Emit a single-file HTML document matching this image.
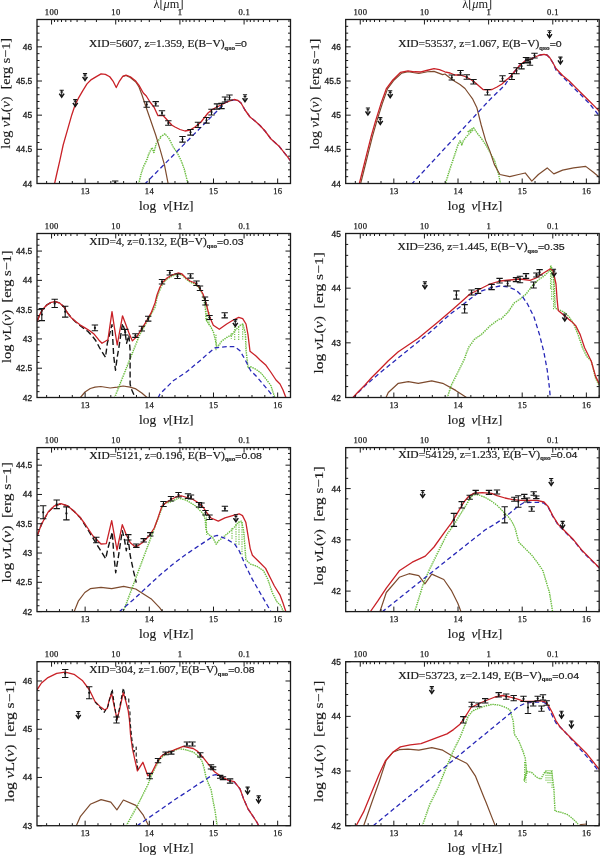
<!DOCTYPE html>
<html><head><meta charset="utf-8"><style>
html,body{margin:0;padding:0;background:#fff;}
svg{display:block;will-change:transform;}
.tx{font-family:"Liberation Serif",serif;font-size:8.6px;letter-spacing:0.35px;fill:#1a1a1a;stroke:#1a1a1a;stroke-width:0.25px;}
.ty{font-family:"Liberation Sans",sans-serif;font-size:8.4px;fill:#1a1a1a;stroke:#1a1a1a;stroke-width:0.3px;}
.al{font-family:"Liberation Serif",serif;font-size:12.8px;fill:#1a1a1a;stroke:#1a1a1a;stroke-width:0.15px;white-space:pre;}
.lam{font-family:"Liberation Serif",serif;font-size:11.5px;fill:#1a1a1a;}
.ti{font-family:"Liberation Serif",serif;font-size:10.2px;fill:#1a1a1a;stroke:#1a1a1a;stroke-width:0.2px;}
.tv{font-family:"Liberation Sans",sans-serif;font-size:9.4px;}
.sub{font-family:"Liberation Sans",sans-serif;font-size:5.2px;font-weight:bold;}
</style></head><body>
<svg width="600" height="855" viewBox="0 0 600 855">
<rect width="600" height="855" fill="#fff"/>
<clipPath id="cp0"><rect x="37.0" y="19.5" width="253.5" height="164.0"/></clipPath><g clip-path="url(#cp0)">
<polyline points="138.57,184.00 141.17,173.17 143.33,166.67 146.58,160.17 148.75,153.67 152.00,147.60 153.73,152.58 156.33,142.83 160.67,137.42 160.00,137.10 164.84,133.80 168.80,138.20 173.20,147.00 177.60,153.60 180.90,160.20 184.20,169.00 187.50,182.20 188.16,188.80" fill="none" stroke="#68bc3c" stroke-width="1.3" stroke-dasharray="1.3,1" stroke-linejoin="round"/>
<polyline points="139.07,184.40 141.67,173.57 143.83,167.07 147.08,160.57 149.25,154.07 152.50,148.00 154.23,152.98 156.83,143.23 161.17,137.82 160.50,137.50 165.34,134.20 169.30,138.60 173.70,147.40 178.10,154.00 181.40,160.60 184.70,169.40 188.00,182.60 188.66,189.20" fill="none" stroke="#68bc3c" stroke-width="0.9" stroke-dasharray="0.9,1.7" stroke-linejoin="round" opacity="0.8"/>
<polyline points="144.40,184.50 226.00,101.90 234.80,99.70 238.00,100.50 241.00,103.00 245.00,110.00 250.00,117.00 255.00,121.00 260.00,125.50 265.00,131.00 271.00,139.00 278.80,145.90 283.20,151.40 287.60,156.90 292.00,162.84" fill="none" stroke="#2828b8" stroke-width="1.3" stroke-linejoin="round" stroke-dasharray="4.6,3" opacity="1"/>
<polyline points="122.80,76.30 126.00,75.50 130.30,77.50 135.80,82.00 139.00,87.00 142.00,95.00 146.00,107.00 150.00,118.50 155.70,135.00 160.00,149.20 164.40,164.60 168.40,185.00" fill="none" stroke="#7d4b2e" stroke-width="1.2" stroke-linejoin="round" opacity="1"/>
<polyline points="54.50,184.00 56.67,174.25 59.92,160.17 63.17,145.00 67.50,129.83 71.83,114.67 75.08,104.92 78.33,98.42 82.67,90.83 87.00,83.90 91.33,79.57 96.75,76.32 101.08,73.93 105.42,74.37 109.75,76.75 113.00,81.08 116.25,87.58 119.50,81.08 122.75,76.32 126.00,75.23 130.33,76.75 135.75,81.08 139.00,85.42 143.30,93.00 146.30,96.00 150.00,102.00 154.30,107.70 158.00,115.70 163.30,115.70 172.00,125.30 175.00,127.00 180.00,129.50 185.00,131.00 190.00,130.00 195.00,127.00 201.00,122.00 208.00,113.00 213.00,109.00 220.00,105.50 227.00,102.00 234.00,99.50 238.00,100.50 241.00,103.00 245.00,110.00 250.00,117.00 255.00,121.00 260.00,125.50 265.00,131.00 271.00,139.00 278.80,145.90 283.20,151.40 287.60,156.90 292.00,162.84" fill="none" stroke="#c92127" stroke-width="1.3" stroke-linejoin="round" opacity="1"/>
<path d="M143.50 101.70h6.4M143.50 107.30h6.4M146.70 101.70V107.30" stroke="#151515" stroke-width="1.1" fill="none"/><circle cx="146.70" cy="104.50" r="1.1" fill="#151515"/>
<path d="M152.50 101.60h6.4M152.50 106.00h6.4M155.70 101.60V106.00" stroke="#151515" stroke-width="1.1" fill="none"/><circle cx="155.70" cy="103.80" r="1.1" fill="#151515"/>
<path d="M158.80 110.80h6.4M158.80 115.20h6.4M162.00 110.80V115.20" stroke="#151515" stroke-width="1.1" fill="none"/><circle cx="162.00" cy="113.00" r="1.1" fill="#151515"/>
<path d="M165.10 120.70h6.4M165.10 125.30h6.4M168.30 120.70V125.30" stroke="#151515" stroke-width="1.1" fill="none"/><circle cx="168.30" cy="123.00" r="1.1" fill="#151515"/>
<path d="M179.30 136.55h6.4M179.30 142.15h6.4M182.50 136.55V142.15" stroke="#151515" stroke-width="1.1" fill="none"/><circle cx="182.50" cy="139.35" r="1.1" fill="#151515"/>
<path d="M187.30 129.55h6.4M187.30 135.15h6.4M190.50 129.55V135.15" stroke="#151515" stroke-width="1.1" fill="none"/><circle cx="190.50" cy="132.35" r="1.1" fill="#151515"/>
<path d="M194.80 122.25h6.4M194.80 127.45h6.4M198.00 122.25V127.45" stroke="#151515" stroke-width="1.1" fill="none"/><circle cx="198.00" cy="124.85" r="1.1" fill="#151515"/>
<path d="M203.30 117.55h6.4M203.30 123.15h6.4M206.50 117.55V123.15" stroke="#151515" stroke-width="1.1" fill="none"/><circle cx="206.50" cy="120.35" r="1.1" fill="#151515"/>
<path d="M208.30 109.20h6.4M208.30 115.00h6.4M211.50 109.20V115.00" stroke="#151515" stroke-width="1.1" fill="none"/><circle cx="211.50" cy="112.10" r="1.1" fill="#151515"/>
<path d="M213.80 103.90h6.4M213.80 109.10h6.4M217.00 103.90V109.10" stroke="#151515" stroke-width="1.1" fill="none"/><circle cx="217.00" cy="106.50" r="1.1" fill="#151515"/>
<path d="M218.30 103.40h6.4M218.30 108.60h6.4M221.50 103.40V108.60" stroke="#151515" stroke-width="1.1" fill="none"/><circle cx="221.50" cy="106.00" r="1.1" fill="#151515"/>
<path d="M221.80 97.00h6.4M221.80 102.00h6.4M225.00 97.00V102.00" stroke="#151515" stroke-width="1.1" fill="none"/><circle cx="225.00" cy="99.50" r="1.1" fill="#151515"/>
<path d="M226.30 95.00h6.4M226.30 100.00h6.4M229.50 95.00V100.00" stroke="#151515" stroke-width="1.1" fill="none"/><circle cx="229.50" cy="97.50" r="1.1" fill="#151515"/>
<path d="M112.00 181.00h6.4M112.00 184.00h6.4M115.20 181.00V184.00" stroke="#151515" stroke-width="1.1" fill="none"/><circle cx="115.20" cy="182.50" r="1.1" fill="#151515"/>
<path d="M59.60 90.30h4.2M60.30 92.00h2.8M61.70 90.00v6.5" stroke="#151515" stroke-width="1.1" fill="none"/><polyline points="59.30,93.60 61.70,97.20 64.10,93.60" stroke="#151515" stroke-width="1.5" fill="none" stroke-linejoin="miter"/>
<path d="M73.20 99.60h4.2M73.90 101.30h2.8M75.30 99.30v6.5" stroke="#151515" stroke-width="1.1" fill="none"/><polyline points="72.90,102.90 75.30,106.50 77.70,102.90" stroke="#151515" stroke-width="1.5" fill="none" stroke-linejoin="miter"/>
<path d="M82.90 73.60h4.2M83.60 75.30h2.8M85.00 73.30v6.5" stroke="#151515" stroke-width="1.1" fill="none"/><polyline points="82.60,76.90 85.00,80.50 87.40,76.90" stroke="#151515" stroke-width="1.5" fill="none" stroke-linejoin="miter"/>
<path d="M242.90 94.80h4.2M243.60 96.50h2.8M245.00 94.50v6.5" stroke="#151515" stroke-width="1.1" fill="none"/><polyline points="242.60,98.10 245.00,101.70 247.40,98.10" stroke="#151515" stroke-width="1.5" fill="none" stroke-linejoin="miter"/>
</g>
<clipPath id="cp1"><rect x="345.7" y="19.5" width="253.5" height="164.0"/></clipPath><g clip-path="url(#cp1)">
<polyline points="444.83,185.08 449.17,171.00 453.50,158.00 457.83,145.00 460.00,140.67 461.73,145.00 463.25,140.67 466.50,136.33 470.83,132.00 473.00,129.83 468.00,131.60 473.50,127.64 476.80,132.70 481.20,138.20 485.60,144.80 490.00,152.50 494.40,160.20 498.80,175.60 501.44,188.80" fill="none" stroke="#68bc3c" stroke-width="1.3" stroke-dasharray="1.3,1" stroke-linejoin="round"/>
<polyline points="445.33,185.48 449.67,171.40 454.00,158.40 458.33,145.40 460.50,141.07 462.23,145.40 463.75,141.07 467.00,136.73 471.33,132.40 473.50,130.23 468.50,132.00 474.00,128.04 477.30,133.10 481.70,138.60 486.10,145.20 490.50,152.90 494.90,160.60 499.30,176.00 501.94,189.20" fill="none" stroke="#68bc3c" stroke-width="0.9" stroke-dasharray="0.9,1.7" stroke-linejoin="round" opacity="0.8"/>
<polyline points="360.55,184.00 363.80,171.00 368.13,153.67 372.47,136.33 376.80,121.17 382.22,103.83 387.63,88.67 394.13,80.00 401.72,73.07 408.00,71.77 418.83,73.50 427.50,71.77 434.00,71.33 442.67,74.58 445.00,74.00 450.00,78.00 455.00,81.50 460.00,84.50 465.00,88.50 469.00,94.00 472.40,98.60 476.80,107.40 481.20,125.00 485.60,140.40 490.00,151.40 494.40,164.60 499.90,174.50 509.80,176.70 518.60,174.50 525.20,172.96 531.80,181.10 538.40,174.50 547.20,167.90 553.80,173.84 562.60,170.10 573.60,167.90 585.70,166.36 593.40,172.30 600.00,177.80" fill="none" stroke="#7d4b2e" stroke-width="1.2" stroke-linejoin="round" opacity="1"/>
<polyline points="411.30,184.50 490.00,99.50 505.00,85.00 510.00,77.00 515.00,71.00 520.00,65.00 525.00,61.00 530.00,59.50 535.00,57.00 540.00,55.00 544.00,54.30 547.00,55.00 550.00,58.00 553.00,63.00 556.00,70.00 567.00,81.00 578.00,92.00 589.00,103.00 597.80,114.00 601.00,117.00" fill="none" stroke="#2828b8" stroke-width="1.3" stroke-linejoin="round" stroke-dasharray="4.6,3" opacity="1"/>
<polyline points="359.25,184.00 362.50,171.00 366.83,153.67 371.17,136.33 375.50,121.17 380.92,103.83 386.33,88.67 392.83,80.00 400.42,72.42 408.00,70.90 414.50,71.77 421.00,71.98 427.50,70.25 434.00,68.73 439.42,69.60 444.83,71.77 450.00,73.00 455.00,75.00 460.00,75.00 465.00,76.50 470.00,79.00 475.00,82.50 479.00,86.00 483.00,89.50 488.00,89.80 492.00,89.50 497.00,87.00 502.00,84.00 505.00,81.00 510.00,77.00 515.00,71.00 520.00,65.00 525.00,61.00 530.00,59.50 535.00,57.00 540.00,55.00 544.00,54.30 547.00,55.00 550.00,58.00 553.00,63.00 556.00,68.50 562.60,75.50 569.20,81.00 575.80,87.60 582.40,94.20 589.00,100.80 595.60,107.40 601.00,113.00" fill="none" stroke="#c92127" stroke-width="1.3" stroke-linejoin="round" opacity="1"/>
<path d="M448.60 75.00h6.4M448.60 80.00h6.4M451.80 75.00V80.00" stroke="#151515" stroke-width="1.1" fill="none"/><circle cx="451.80" cy="77.50" r="1.1" fill="#151515"/>
<path d="M457.30 70.45h6.4M457.30 75.05h6.4M460.50 70.45V75.05" stroke="#151515" stroke-width="1.1" fill="none"/><circle cx="460.50" cy="72.75" r="1.1" fill="#151515"/>
<path d="M463.60 74.80h6.4M463.60 79.20h6.4M466.80 74.80V79.20" stroke="#151515" stroke-width="1.1" fill="none"/><circle cx="466.80" cy="77.00" r="1.1" fill="#151515"/>
<path d="M470.30 79.45h6.4M470.30 84.05h6.4M473.50 79.45V84.05" stroke="#151515" stroke-width="1.1" fill="none"/><circle cx="473.50" cy="81.75" r="1.1" fill="#151515"/>
<path d="M484.30 89.55h6.4M484.30 94.95h6.4M487.50 89.55V94.95" stroke="#151515" stroke-width="1.1" fill="none"/><circle cx="487.50" cy="92.25" r="1.1" fill="#151515"/>
<path d="M499.30 75.80h6.4M499.30 81.20h6.4M502.50 75.80V81.20" stroke="#151515" stroke-width="1.1" fill="none"/><circle cx="502.50" cy="78.50" r="1.1" fill="#151515"/>
<path d="M508.60 73.50h6.4M508.60 79.50h6.4M511.80 73.50V79.50" stroke="#151515" stroke-width="1.1" fill="none"/><circle cx="511.80" cy="76.50" r="1.1" fill="#151515"/>
<path d="M513.30 67.70h6.4M513.30 73.70h6.4M516.50 67.70V73.70" stroke="#151515" stroke-width="1.1" fill="none"/><circle cx="516.50" cy="70.70" r="1.1" fill="#151515"/>
<path d="M518.30 63.50h6.4M518.30 68.90h6.4M521.50 63.50V68.90" stroke="#151515" stroke-width="1.1" fill="none"/><circle cx="521.50" cy="66.20" r="1.1" fill="#151515"/>
<path d="M522.80 57.50h6.4M522.80 62.50h6.4M526.00 57.50V62.50" stroke="#151515" stroke-width="1.1" fill="none"/><circle cx="526.00" cy="60.00" r="1.1" fill="#151515"/>
<path d="M526.80 59.20h6.4M526.80 65.20h6.4M530.00 59.20V65.20" stroke="#151515" stroke-width="1.1" fill="none"/><circle cx="530.00" cy="62.20" r="1.1" fill="#151515"/>
<path d="M524.80 58.00h6.4M524.80 63.00h6.4M528.00 58.00V63.00" stroke="#151515" stroke-width="1.1" fill="none"/><circle cx="528.00" cy="60.50" r="1.1" fill="#151515"/>
<path d="M531.30 53.20h6.4M531.30 58.00h6.4M534.50 53.20V58.00" stroke="#151515" stroke-width="1.1" fill="none"/><circle cx="534.50" cy="55.60" r="1.1" fill="#151515"/>
<path d="M365.80 108.00h4.2M366.50 109.70h2.8M367.90 107.70v6.5" stroke="#151515" stroke-width="1.1" fill="none"/><polyline points="365.50,111.30 367.90,114.90 370.30,111.30" stroke="#151515" stroke-width="1.5" fill="none" stroke-linejoin="miter"/>
<path d="M378.20 117.60h4.2M378.90 119.30h2.8M380.30 117.30v6.5" stroke="#151515" stroke-width="1.1" fill="none"/><polyline points="377.90,120.90 380.30,124.50 382.70,120.90" stroke="#151515" stroke-width="1.5" fill="none" stroke-linejoin="miter"/>
<path d="M388.10 90.70h4.2M388.80 92.40h2.8M390.20 90.40v6.5" stroke="#151515" stroke-width="1.1" fill="none"/><polyline points="387.80,94.00 390.20,97.60 392.60,94.00" stroke="#151515" stroke-width="1.5" fill="none" stroke-linejoin="miter"/>
<path d="M547.40 30.80h4.2M548.10 32.50h2.8M549.50 30.50v6.5" stroke="#151515" stroke-width="1.1" fill="none"/><polyline points="547.10,34.10 549.50,37.70 551.90,34.10" stroke="#151515" stroke-width="1.5" fill="none" stroke-linejoin="miter"/>
<path d="M558.30 57.10h4.2M559.00 58.80h2.8M560.40 56.80v6.5" stroke="#151515" stroke-width="1.1" fill="none"/><polyline points="558.00,60.40 560.40,64.00 562.80,60.40" stroke="#151515" stroke-width="1.5" fill="none" stroke-linejoin="miter"/>
</g>
<clipPath id="cp2"><rect x="37.0" y="233.5" width="253.5" height="164.0"/></clipPath><g clip-path="url(#cp2)">
<polyline points="80.00,398.00 85.00,392.00 90.30,388.50 95.00,387.10 100.80,386.50 110.20,388.00 117.20,387.10 123.10,386.00 130.10,387.10 135.90,388.90 141.80,393.00 147.60,398.00" fill="none" stroke="#7d4b2e" stroke-width="1.2" stroke-linejoin="round" opacity="1"/>
<polyline points="114.30,398.00 139.40,335.10 155.00,307.00 157.00,297.00 160.00,289.00 163.00,283.00 167.00,279.00 172.00,276.00 178.00,274.00 182.00,275.00 186.00,279.00 190.00,282.00 195.00,284.00 199.00,288.00 203.00,295.00 205.30,308.00 206.00,320.00 210.70,326.70 213.30,332.00 215.30,340.00 216.70,346.00 218.70,345.30 221.30,341.30 226.70,337.30 232.00,334.70 234.70,330.70 237.30,328.00 240.00,325.30 242.70,324.00 245.30,333.30 246.00,350.70 248.00,368.00 250.70,366.70 256.00,369.30 261.30,373.30 266.70,380.00 270.70,385.30 273.30,393.30 275.00,398.00" fill="none" stroke="#68bc3c" stroke-width="1.3" stroke-dasharray="1.3,1" stroke-linejoin="round"/>
<polyline points="114.80,398.40 139.90,335.50 155.50,307.40 157.50,297.40 160.50,289.40 163.50,283.40 167.50,279.40 172.50,276.40 178.50,274.40 182.50,275.40 186.50,279.40 190.50,282.40 195.50,284.40 199.50,288.40 203.50,295.40 205.80,308.40 206.50,320.40 211.20,327.10 213.80,332.40 215.80,340.40 217.20,346.40 219.20,345.70 221.80,341.70 227.20,337.70 232.50,335.10 235.20,331.10 237.80,328.40 240.50,325.70 243.20,324.40 245.80,333.70 246.50,351.10 248.50,368.40 251.20,367.10 256.50,369.70 261.80,373.70 267.20,380.40 271.20,385.70 273.80,393.70 275.50,398.40" fill="none" stroke="#68bc3c" stroke-width="0.9" stroke-dasharray="0.9,1.7" stroke-linejoin="round" opacity="0.8"/>
<polyline points="216.00,334.70 216.00,350.70" fill="none" stroke="#68bc3c" stroke-width="1.1" stroke-linejoin="round" stroke-dasharray="1.2,1.2" opacity="1"/>
<polyline points="231.30,333.30 231.30,338.70" fill="none" stroke="#68bc3c" stroke-width="1.1" stroke-linejoin="round" stroke-dasharray="1.2,1.2" opacity="1"/>
<polyline points="234.70,326.70 234.70,340.00" fill="none" stroke="#68bc3c" stroke-width="1.1" stroke-linejoin="round" stroke-dasharray="1.2,1.2" opacity="1"/>
<polyline points="238.70,326.70 238.70,340.00" fill="none" stroke="#68bc3c" stroke-width="1.1" stroke-linejoin="round" stroke-dasharray="1.2,1.2" opacity="1"/>
<polyline points="242.70,324.00 242.70,340.00" fill="none" stroke="#68bc3c" stroke-width="1.1" stroke-linejoin="round" stroke-dasharray="1.2,1.2" opacity="1"/>
<polyline points="207.00,306.00 207.00,322.00" fill="none" stroke="#68bc3c" stroke-width="1.1" stroke-linejoin="round" stroke-dasharray="1.2,1.2" opacity="1"/>
<polyline points="209.00,312.00 209.00,326.00" fill="none" stroke="#68bc3c" stroke-width="1.1" stroke-linejoin="round" stroke-dasharray="1.2,1.2" opacity="1"/>
<polyline points="158.00,398.00 160.00,394.00 173.20,380.80 186.40,372.00 199.60,361.00 206.70,354.70 214.70,348.00 220.00,347.30 226.70,346.70 234.70,346.70 240.00,350.70 245.30,360.00 250.70,370.70 257.30,377.30 264.00,385.30 270.70,393.30 274.00,398.00" fill="none" stroke="#2828b8" stroke-width="1.3" stroke-linejoin="round" stroke-dasharray="4.6,3" opacity="1"/>
<polyline points="37.00,321.50 39.50,315.10 42.40,309.80 46.50,305.20 51.20,302.30 55.30,301.70 59.30,302.80 64.00,306.90 67.50,312.80 71.00,317.40 75.70,322.00 81.50,326.80 88.00,331.50 93.20,337.30 95.50,340.20 99.70,348.00 105.50,357.30 107.30,343.30 112.00,324.60 113.70,356.10 115.50,370.20 117.20,357.30 119.00,346.80 122.50,323.40 124.80,330.40 126.60,343.30 128.90,335.10 130.10,350.30 130.10,384.20 131.30,388.90 135.40,398.00" fill="none" stroke="#151515" stroke-width="1.4" stroke-linejoin="round" stroke-dasharray="6,3" opacity="1"/>
<polyline points="37.00,322.00 39.50,315.10 42.40,309.80 46.50,305.20 51.20,302.30 55.30,301.70 59.30,302.80 64.00,306.90 67.50,312.80 71.00,317.40 75.70,321.50 80.30,325.00 85.00,327.90 89.70,330.80 94.30,334.30 99.00,340.20 102.00,343.30 107.90,339.80 112.00,311.70 114.30,326.90 117.20,345.00 122.50,315.80 126.00,325.10 128.90,332.70 132.40,340.90 137.10,336.30 141.80,328.70 146.50,321.10 151.10,312.90 155.00,303.00 157.00,295.00 160.00,287.00 163.00,282.00 167.00,278.00 172.00,275.00 178.00,273.00 182.00,274.00 186.00,278.00 190.00,281.00 195.00,283.00 199.00,287.00 203.00,294.00 206.00,303.00 209.30,316.00 213.30,325.30 219.30,329.30 226.70,324.00 233.30,320.00 238.70,317.30 242.70,318.70 246.00,324.00 248.00,334.70 250.00,351.30 256.00,356.00 260.00,360.00 266.00,365.30 270.70,372.00 276.00,380.00 280.00,384.00 283.00,390.00 285.40,396.20 286.50,399.00" fill="none" stroke="#c92127" stroke-width="1.3" stroke-linejoin="round" opacity="1"/>
<path d="M38.60 308.60h6.4M38.60 320.60h6.4M41.80 308.60V320.60" stroke="#151515" stroke-width="1.1" fill="none"/><circle cx="41.80" cy="314.60" r="1.1" fill="#151515"/>
<path d="M51.50 299.30h6.4M51.50 307.50h6.4M54.70 299.30V307.50" stroke="#151515" stroke-width="1.1" fill="none"/><circle cx="54.70" cy="303.40" r="1.1" fill="#151515"/>
<path d="M62.00 306.30h6.4M62.00 317.10h6.4M65.20 306.30V317.10" stroke="#151515" stroke-width="1.1" fill="none"/><circle cx="65.20" cy="311.70" r="1.1" fill="#151515"/>
<path d="M91.70 325.00h6.4M91.70 330.80h6.4M94.90 325.00V330.80" stroke="#151515" stroke-width="1.1" fill="none"/><circle cx="94.90" cy="327.90" r="1.1" fill="#151515"/>
<path d="M122.00 329.40h6.4M122.00 335.00h6.4M125.20 329.40V335.00" stroke="#151515" stroke-width="1.1" fill="none"/><circle cx="125.20" cy="332.20" r="1.1" fill="#151515"/>
<path d="M132.20 333.80h6.4M132.20 337.40h6.4M135.40 333.80V337.40" stroke="#151515" stroke-width="1.1" fill="none"/><circle cx="135.40" cy="335.60" r="1.1" fill="#151515"/>
<path d="M138.60 326.20h6.4M138.60 331.00h6.4M141.80 326.20V331.00" stroke="#151515" stroke-width="1.1" fill="none"/><circle cx="141.80" cy="328.60" r="1.1" fill="#151515"/>
<path d="M145.00 316.30h6.4M145.00 321.10h6.4M148.20 316.30V321.10" stroke="#151515" stroke-width="1.1" fill="none"/><circle cx="148.20" cy="318.70" r="1.1" fill="#151515"/>
<path d="M158.80 279.45h6.4M158.80 284.05h6.4M162.00 279.45V284.05" stroke="#151515" stroke-width="1.1" fill="none"/><circle cx="162.00" cy="281.75" r="1.1" fill="#151515"/>
<path d="M166.60 270.45h6.4M166.60 275.05h6.4M169.80 270.45V275.05" stroke="#151515" stroke-width="1.1" fill="none"/><circle cx="169.80" cy="272.75" r="1.1" fill="#151515"/>
<path d="M174.30 273.95h6.4M174.30 278.55h6.4M177.50 273.95V278.55" stroke="#151515" stroke-width="1.1" fill="none"/><circle cx="177.50" cy="276.25" r="1.1" fill="#151515"/>
<path d="M187.30 273.70h6.4M187.30 278.10h6.4M190.50 273.70V278.10" stroke="#151515" stroke-width="1.1" fill="none"/><circle cx="190.50" cy="275.90" r="1.1" fill="#151515"/>
<path d="M193.30 280.95h6.4M193.30 285.55h6.4M196.50 280.95V285.55" stroke="#151515" stroke-width="1.1" fill="none"/><circle cx="196.50" cy="283.25" r="1.1" fill="#151515"/>
<path d="M196.80 285.95h6.4M196.80 290.55h6.4M200.00 285.95V290.55" stroke="#151515" stroke-width="1.1" fill="none"/><circle cx="200.00" cy="288.25" r="1.1" fill="#151515"/>
<path d="M201.80 296.95h6.4M201.80 300.55h6.4M205.00 296.95V300.55" stroke="#151515" stroke-width="1.1" fill="none"/><circle cx="205.00" cy="298.75" r="1.1" fill="#151515"/>
<path d="M202.30 300.45h6.4M202.30 305.05h6.4M205.50 300.45V305.05" stroke="#151515" stroke-width="1.1" fill="none"/><circle cx="205.50" cy="302.75" r="1.1" fill="#151515"/>
<path d="M206.30 315.50h6.4M206.30 319.50h6.4M209.50 315.50V319.50" stroke="#151515" stroke-width="1.1" fill="none"/><circle cx="209.50" cy="317.50" r="1.1" fill="#151515"/>
<path d="M221.50 312.70h6.4M221.50 317.90h6.4M224.70 312.70V317.90" stroke="#151515" stroke-width="1.1" fill="none"/><circle cx="224.70" cy="315.30" r="1.1" fill="#151515"/>
<path d="M233.20 319.60h4.2M233.90 321.30h2.8M235.30 319.30v6.5" stroke="#151515" stroke-width="1.1" fill="none"/><polyline points="232.90,322.90 235.30,326.50 237.70,322.90" stroke="#151515" stroke-width="1.5" fill="none" stroke-linejoin="miter"/>
</g>
<clipPath id="cp3"><rect x="345.7" y="233.5" width="253.5" height="164.0"/></clipPath><g clip-path="url(#cp3)">
<polyline points="385.80,398.00 388.30,392.50 398.30,383.30 408.30,381.70 418.30,383.30 431.70,380.80 442.70,383.30 455.70,390.40 466.50,397.50" fill="none" stroke="#7d4b2e" stroke-width="1.2" stroke-linejoin="round" opacity="1"/>
<polyline points="447.00,398.00 451.30,385.00 455.70,376.30 461.10,365.50 464.30,359.00 466.50,352.50 468.70,347.10 474.60,339.00 481.20,334.60 490.00,325.80 498.80,319.20 501.00,319.00 508.00,312.00 514.00,303.00 520.00,299.00 526.00,294.00 532.00,286.00 538.00,280.00 544.00,276.00 550.00,270.00 551.00,266.00 552.00,272.00 554.00,280.00 555.00,308.00 560.40,310.40 564.80,312.60 569.20,317.00 573.60,323.60 578.00,334.60 582.40,347.80 586.80,356.60 591.20,361.00 595.60,378.60 600.00,387.40" fill="none" stroke="#68bc3c" stroke-width="1.3" stroke-dasharray="1.3,1" stroke-linejoin="round"/>
<polyline points="447.50,398.40 451.80,385.40 456.20,376.70 461.60,365.90 464.80,359.40 467.00,352.90 469.20,347.50 475.10,339.40 481.70,335.00 490.50,326.20 499.30,319.60 501.50,319.40 508.50,312.40 514.50,303.40 520.50,299.40 526.50,294.40 532.50,286.40 538.50,280.40 544.50,276.40 550.50,270.40 551.50,266.40 552.50,272.40 554.50,280.40 555.50,308.40 560.90,310.80 565.30,313.00 569.70,317.40 574.10,324.00 578.50,335.00 582.90,348.20 587.30,357.00 591.70,361.40 596.10,379.00 600.50,387.80" fill="none" stroke="#68bc3c" stroke-width="0.9" stroke-dasharray="0.9,1.7" stroke-linejoin="round" opacity="0.8"/>
<polyline points="550.50,266.00 550.50,290.00" fill="none" stroke="#68bc3c" stroke-width="1.1" stroke-linejoin="round" stroke-dasharray="1.2,1.2" opacity="1"/>
<polyline points="551.70,267.00 551.70,300.00" fill="none" stroke="#68bc3c" stroke-width="1.1" stroke-linejoin="round" stroke-dasharray="1.2,1.2" opacity="1"/>
<polyline points="553.50,272.00 553.50,310.00" fill="none" stroke="#68bc3c" stroke-width="1.1" stroke-linejoin="round" stroke-dasharray="1.2,1.2" opacity="1"/>
<polyline points="352.80,398.00 365.00,385.80 378.30,374.20 391.70,363.30 405.00,352.50 418.30,341.70 431.70,330.80 440.00,323.30 450.00,314.30 460.00,307.00 470.00,299.00 480.00,291.60 490.00,288.00 500.00,286.00 508.00,287.00 516.00,290.00 522.00,296.00 527.40,303.80 534.00,317.00 539.50,334.60 543.90,352.20 547.20,369.80 549.40,387.40 550.50,400.00" fill="none" stroke="#2828b8" stroke-width="1.3" stroke-linejoin="round" stroke-dasharray="4.6,3" opacity="1"/>
<polyline points="352.50,398.00 358.30,391.70 365.00,385.00 371.70,377.50 380.00,369.20 388.30,360.80 398.30,351.70 408.30,345.00 418.30,338.30 428.30,330.00 438.30,321.70 450.00,311.70 460.00,303.00 470.00,294.00 480.00,289.00 490.00,284.00 500.00,281.00 510.00,280.00 520.00,279.00 530.00,280.40 536.00,278.00 542.00,274.00 550.00,269.00 553.00,270.50 556.00,284.00 557.10,299.40 558.20,310.40 564.80,315.90 571.40,321.40 575.80,325.80 580.20,334.60 584.60,347.80 591.20,361.00 595.60,376.40 600.00,385.20" fill="none" stroke="#c92127" stroke-width="1.3" stroke-linejoin="round" opacity="1"/>
<path d="M453.20 290.90h6.4M453.20 299.10h6.4M456.40 290.90V299.10" stroke="#151515" stroke-width="1.1" fill="none"/><circle cx="456.40" cy="295.00" r="1.1" fill="#151515"/>
<path d="M461.40 304.60h6.4M461.40 313.00h6.4M464.60 304.60V313.00" stroke="#151515" stroke-width="1.1" fill="none"/><circle cx="464.60" cy="308.80" r="1.1" fill="#151515"/>
<path d="M468.40 290.00h6.4M468.40 295.00h6.4M471.60 290.00V295.00" stroke="#151515" stroke-width="1.1" fill="none"/><circle cx="471.60" cy="292.50" r="1.1" fill="#151515"/>
<path d="M474.80 288.60h6.4M474.80 293.40h6.4M478.00 288.60V293.40" stroke="#151515" stroke-width="1.1" fill="none"/><circle cx="478.00" cy="291.00" r="1.1" fill="#151515"/>
<path d="M488.40 284.40h6.4M488.40 289.60h6.4M491.60 284.40V289.60" stroke="#151515" stroke-width="1.1" fill="none"/><circle cx="491.60" cy="287.00" r="1.1" fill="#151515"/>
<path d="M496.40 278.40h6.4M496.40 283.00h6.4M499.60 278.40V283.00" stroke="#151515" stroke-width="1.1" fill="none"/><circle cx="499.60" cy="280.70" r="1.1" fill="#151515"/>
<path d="M504.40 281.00h6.4M504.40 286.00h6.4M507.60 281.00V286.00" stroke="#151515" stroke-width="1.1" fill="none"/><circle cx="507.60" cy="283.50" r="1.1" fill="#151515"/>
<path d="M512.80 277.60h6.4M512.80 281.60h6.4M516.00 277.60V281.60" stroke="#151515" stroke-width="1.1" fill="none"/><circle cx="516.00" cy="279.60" r="1.1" fill="#151515"/>
<path d="M516.80 276.30h6.4M516.80 282.70h6.4M520.00 276.30V282.70" stroke="#151515" stroke-width="1.1" fill="none"/><circle cx="520.00" cy="279.50" r="1.1" fill="#151515"/>
<path d="M522.80 273.60h6.4M522.80 278.40h6.4M526.00 273.60V278.40" stroke="#151515" stroke-width="1.1" fill="none"/><circle cx="526.00" cy="276.00" r="1.1" fill="#151515"/>
<path d="M530.40 282.00h6.4M530.40 288.00h6.4M533.60 282.00V288.00" stroke="#151515" stroke-width="1.1" fill="none"/><circle cx="533.60" cy="285.00" r="1.1" fill="#151515"/>
<path d="M533.20 273.00h6.4M533.20 277.00h6.4M536.40 273.00V277.00" stroke="#151515" stroke-width="1.1" fill="none"/><circle cx="536.40" cy="275.00" r="1.1" fill="#151515"/>
<path d="M536.40 269.60h6.4M536.40 275.00h6.4M539.60 269.60V275.00" stroke="#151515" stroke-width="1.1" fill="none"/><circle cx="539.60" cy="272.30" r="1.1" fill="#151515"/>
<path d="M422.80 281.70h4.2M423.50 283.40h2.8M424.90 281.40v6.5" stroke="#151515" stroke-width="1.1" fill="none"/><polyline points="422.50,285.00 424.90,288.60 427.30,285.00" stroke="#151515" stroke-width="1.5" fill="none" stroke-linejoin="miter"/>
<path d="M551.90 269.30h4.2M552.60 271.00h2.8M554.00 269.00v6.5" stroke="#151515" stroke-width="1.1" fill="none"/><polyline points="551.60,272.60 554.00,276.20 556.40,272.60" stroke="#151515" stroke-width="1.5" fill="none" stroke-linejoin="miter"/>
<path d="M562.70 314.00h4.2M563.40 315.70h2.8M564.80 313.70v6.5" stroke="#151515" stroke-width="1.1" fill="none"/><polyline points="562.40,317.30 564.80,320.90 567.20,317.30" stroke="#151515" stroke-width="1.5" fill="none" stroke-linejoin="miter"/>
</g>
<clipPath id="cp4"><rect x="37.0" y="447.6" width="253.5" height="164.0"/></clipPath><g clip-path="url(#cp4)">
<polyline points="74.00,612.00 78.30,601.20 84.80,592.50 90.30,588.70 101.00,587.30 111.70,588.70 123.70,586.40 135.70,589.00 142.30,593.30 151.70,599.30 159.60,607.70 162.80,612.00" fill="none" stroke="#7d4b2e" stroke-width="1.2" stroke-linejoin="round" opacity="1"/>
<polyline points="123.00,612.00 127.50,600.00 162.30,506.70 164.40,503.00 168.80,502.40 178.70,498.00 186.40,500.20 195.20,505.70 202.90,513.40 205.10,518.90 205.80,528.80 207.30,533.20 212.80,537.60 216.10,544.20 218.30,540.90 223.80,536.50 230.40,531.00 234.80,526.60 238.10,522.20 241.40,521.10 243.60,531.00 245.80,559.60 250.20,564.00 256.80,566.20 263.40,570.60 267.80,579.40 272.20,592.60 276.60,601.40 281.00,605.80 284.30,614.60" fill="none" stroke="#68bc3c" stroke-width="1.3" stroke-dasharray="1.3,1" stroke-linejoin="round"/>
<polyline points="123.50,612.40 128.00,600.40 162.80,507.10 164.90,503.40 169.30,502.80 179.20,498.40 186.90,500.60 195.70,506.10 203.40,513.80 205.60,519.30 206.30,529.20 207.80,533.60 213.30,538.00 216.60,544.60 218.80,541.30 224.30,536.90 230.90,531.40 235.30,527.00 238.60,522.60 241.90,521.50 244.10,531.40 246.30,560.00 250.70,564.40 257.30,566.60 263.90,571.00 268.30,579.80 272.70,593.00 277.10,601.80 281.50,606.20 284.80,615.00" fill="none" stroke="#68bc3c" stroke-width="0.9" stroke-dasharray="0.9,1.7" stroke-linejoin="round" opacity="0.8"/>
<polyline points="232.00,528.00 232.00,540.00" fill="none" stroke="#68bc3c" stroke-width="1.1" stroke-linejoin="round" stroke-dasharray="1.2,1.2" opacity="1"/>
<polyline points="236.00,524.00 236.00,545.00" fill="none" stroke="#68bc3c" stroke-width="1.1" stroke-linejoin="round" stroke-dasharray="1.2,1.2" opacity="1"/>
<polyline points="239.00,522.00 239.00,545.00" fill="none" stroke="#68bc3c" stroke-width="1.1" stroke-linejoin="round" stroke-dasharray="1.2,1.2" opacity="1"/>
<polyline points="242.00,522.00 242.00,555.00" fill="none" stroke="#68bc3c" stroke-width="1.1" stroke-linejoin="round" stroke-dasharray="1.2,1.2" opacity="1"/>
<polyline points="206.50,515.00 206.50,535.00" fill="none" stroke="#68bc3c" stroke-width="1.1" stroke-linejoin="round" stroke-dasharray="1.2,1.2" opacity="1"/>
<polyline points="119.00,612.00 133.00,600.00 160.00,575.00 173.20,564.00 186.40,554.10 199.60,545.30 212.80,536.50 217.20,535.40 226.00,538.70 234.80,544.20 239.20,550.80 245.80,566.20 252.40,579.40 261.20,594.80 268.90,608.00 271.00,612.00" fill="none" stroke="#2828b8" stroke-width="1.3" stroke-linejoin="round" stroke-dasharray="4.6,3" opacity="1"/>
<polyline points="37.00,536.00 41.50,524.30 48.00,512.30 54.50,505.80 61.00,503.70 67.50,505.80 74.00,511.30 80.50,518.00 87.70,529.30 95.70,542.70 105.70,558.70 107.70,549.30 112.30,532.00 113.70,553.30 115.70,572.70 118.30,557.30 122.30,530.70 124.30,538.70 126.30,550.70 128.30,540.00 130.30,556.00 133.70,572.00 136.30,582.70" fill="none" stroke="#151515" stroke-width="1.4" stroke-linejoin="round" stroke-dasharray="6,3" opacity="1"/>
<polyline points="37.00,536.00 41.50,524.30 48.00,512.30 54.50,505.80 61.00,503.70 67.50,505.80 74.00,511.30 80.50,517.80 85.00,524.00 93.00,536.00 101.00,544.00 106.30,543.70 111.70,520.70 117.00,550.00 122.30,524.70 126.30,534.70 130.30,542.70 135.70,547.30 142.30,542.70 149.00,536.00 154.30,528.00 157.70,518.70 162.00,506.00 167.00,502.00 172.00,499.00 178.00,496.00 182.00,496.00 187.00,497.50 193.00,499.50 198.00,502.50 203.00,507.00 207.00,513.00 211.00,518.00 218.30,521.10 224.90,517.80 232.60,515.60 239.20,513.80 242.50,515.60 245.80,522.20 248.00,535.40 250.20,548.60 252.40,555.20 259.00,561.80 265.60,568.40 270.00,577.20 274.40,586.00 279.90,594.80 283.20,603.60 285.40,610.20 286.50,614.60" fill="none" stroke="#c92127" stroke-width="1.3" stroke-linejoin="round" opacity="1"/>
<path d="M40.00 505.80h6.4M40.00 518.80h6.4M43.20 505.80V518.80" stroke="#151515" stroke-width="1.1" fill="none"/><circle cx="43.20" cy="512.30" r="1.1" fill="#151515"/>
<path d="M53.50 500.00h6.4M53.50 508.60h6.4M56.70 500.00V508.60" stroke="#151515" stroke-width="1.1" fill="none"/><circle cx="56.70" cy="504.30" r="1.1" fill="#151515"/>
<path d="M63.20 506.90h6.4M63.20 519.90h6.4M66.40 506.90V519.90" stroke="#151515" stroke-width="1.1" fill="none"/><circle cx="66.40" cy="513.40" r="1.1" fill="#151515"/>
<path d="M93.10 537.30h6.4M93.10 542.70h6.4M96.30 537.30V542.70" stroke="#151515" stroke-width="1.1" fill="none"/><circle cx="96.30" cy="540.00" r="1.1" fill="#151515"/>
<path d="M125.10 534.60h6.4M125.10 540.00h6.4M128.30 534.60V540.00" stroke="#151515" stroke-width="1.1" fill="none"/><circle cx="128.30" cy="537.30" r="1.1" fill="#151515"/>
<path d="M133.10 544.00h6.4M133.10 547.40h6.4M136.30 544.00V547.40" stroke="#151515" stroke-width="1.1" fill="none"/><circle cx="136.30" cy="545.70" r="1.1" fill="#151515"/>
<path d="M140.50 538.60h6.4M140.50 542.00h6.4M143.70 538.60V542.00" stroke="#151515" stroke-width="1.1" fill="none"/><circle cx="143.70" cy="540.30" r="1.1" fill="#151515"/>
<path d="M147.10 532.60h6.4M147.10 536.00h6.4M150.30 532.60V536.00" stroke="#151515" stroke-width="1.1" fill="none"/><circle cx="150.30" cy="534.30" r="1.1" fill="#151515"/>
<path d="M160.30 501.50h6.4M160.30 506.50h6.4M163.50 501.50V506.50" stroke="#151515" stroke-width="1.1" fill="none"/><circle cx="163.50" cy="504.00" r="1.1" fill="#151515"/>
<path d="M167.80 496.45h6.4M167.80 501.05h6.4M171.00 496.45V501.05" stroke="#151515" stroke-width="1.1" fill="none"/><circle cx="171.00" cy="498.75" r="1.1" fill="#151515"/>
<path d="M175.30 492.45h6.4M175.30 497.05h6.4M178.50 492.45V497.05" stroke="#151515" stroke-width="1.1" fill="none"/><circle cx="178.50" cy="494.75" r="1.1" fill="#151515"/>
<path d="M184.80 493.80h6.4M184.80 498.40h6.4M188.00 493.80V498.40" stroke="#151515" stroke-width="1.1" fill="none"/><circle cx="188.00" cy="496.10" r="1.1" fill="#151515"/>
<path d="M187.80 495.00h6.4M187.80 499.00h6.4M191.00 495.00V499.00" stroke="#151515" stroke-width="1.1" fill="none"/><circle cx="191.00" cy="497.00" r="1.1" fill="#151515"/>
<path d="M195.80 502.45h6.4M195.80 507.05h6.4M199.00 502.45V507.05" stroke="#151515" stroke-width="1.1" fill="none"/><circle cx="199.00" cy="504.75" r="1.1" fill="#151515"/>
<path d="M198.30 502.95h6.4M198.30 507.55h6.4M201.50 502.95V507.55" stroke="#151515" stroke-width="1.1" fill="none"/><circle cx="201.50" cy="505.25" r="1.1" fill="#151515"/>
<path d="M202.30 510.45h6.4M202.30 515.05h6.4M205.50 510.45V515.05" stroke="#151515" stroke-width="1.1" fill="none"/><circle cx="205.50" cy="512.75" r="1.1" fill="#151515"/>
<path d="M206.30 514.95h6.4M206.30 519.55h6.4M209.50 514.95V519.55" stroke="#151515" stroke-width="1.1" fill="none"/><circle cx="209.50" cy="517.25" r="1.1" fill="#151515"/>
<path d="M221.70 506.30h6.4M221.70 510.90h6.4M224.90 506.30V510.90" stroke="#151515" stroke-width="1.1" fill="none"/><circle cx="224.90" cy="508.60" r="1.1" fill="#151515"/>
<path d="M233.80 514.80h4.2M234.50 516.50h2.8M235.90 514.50v6.5" stroke="#151515" stroke-width="1.1" fill="none"/><polyline points="233.50,518.10 235.90,521.70 238.30,518.10" stroke="#151515" stroke-width="1.5" fill="none" stroke-linejoin="miter"/>
</g>
<clipPath id="cp5"><rect x="345.7" y="447.6" width="253.5" height="164.0"/></clipPath><g clip-path="url(#cp5)">
<polyline points="379.80,612.00 386.30,592.50 399.30,577.30 409.10,573.70 418.80,575.60 424.90,583.80 431.80,574.10 443.80,579.50 451.30,590.30 457.80,603.30 461.10,612.00" fill="none" stroke="#7d4b2e" stroke-width="1.2" stroke-linejoin="round" opacity="1"/>
<polyline points="414.50,612.00 423.20,583.80 429.70,568.70 438.30,551.30 447.00,534.00 453.50,525.30 460.00,514.50 465.00,506.70 469.00,500.00 473.00,494.70 478.30,494.70 485.00,497.30 491.70,501.30 497.00,505.30 502.30,510.70 507.70,516.00 511.70,521.30 515.00,528.00 518.60,542.00 525.20,548.60 531.80,555.20 538.40,564.00 542.80,570.60 546.10,581.60 549.40,592.60 551.60,605.80 552.70,613.00" fill="none" stroke="#68bc3c" stroke-width="1.3" stroke-dasharray="1.3,1" stroke-linejoin="round"/>
<polyline points="415.00,612.40 423.70,584.20 430.20,569.10 438.80,551.70 447.50,534.40 454.00,525.70 460.50,514.90 465.50,507.10 469.50,500.40 473.50,495.10 478.80,495.10 485.50,497.70 492.20,501.70 497.50,505.70 502.80,511.10 508.20,516.40 512.20,521.70 515.50,528.40 519.10,542.40 525.70,549.00 532.30,555.60 538.90,564.40 543.30,571.00 546.60,582.00 549.90,593.00 552.10,606.20 553.20,613.40" fill="none" stroke="#68bc3c" stroke-width="0.9" stroke-dasharray="0.9,1.7" stroke-linejoin="round" opacity="0.8"/>
<polyline points="382.00,612.00 473.00,539.40 481.20,533.20 485.00,530.00 494.40,524.40 505.00,517.30 518.30,506.00 523.70,502.70 531.70,502.40 539.70,502.40 543.90,503.00 548.30,507.50 552.70,516.20 558.20,525.00 564.80,531.60 573.60,540.40 582.40,551.40 591.20,560.20 601.00,569.60" fill="none" stroke="#2828b8" stroke-width="1.3" stroke-linejoin="round" stroke-dasharray="4.6,3" opacity="1"/>
<polyline points="370.10,612.00 377.70,601.20 386.30,588.20 399.30,570.80 412.30,562.20 425.30,556.10 434.00,547.00 444.80,531.80 451.30,523.20 457.80,512.30 464.30,501.50 469.00,496.00 474.30,493.10 482.30,492.70 491.70,493.30 497.00,495.70 505.00,498.00 513.00,499.70 521.00,500.30 529.00,500.30 537.00,500.30 543.90,502.00 548.30,506.80 552.70,515.60 558.20,524.40 564.80,531.00 573.60,539.80 582.40,550.80 591.20,559.60 601.00,569.50" fill="none" stroke="#c92127" stroke-width="1.3" stroke-linejoin="round" opacity="1"/>
<path d="M450.70 513.40h6.4M450.70 526.40h6.4M453.90 513.40V526.40" stroke="#151515" stroke-width="1.1" fill="none"/><circle cx="453.90" cy="519.90" r="1.1" fill="#151515"/>
<path d="M458.50 501.60h6.4M458.50 508.00h6.4M461.70 501.60V508.00" stroke="#151515" stroke-width="1.1" fill="none"/><circle cx="461.70" cy="504.80" r="1.1" fill="#151515"/>
<path d="M466.50 495.30h6.4M466.50 499.30h6.4M469.70 495.30V499.30" stroke="#151515" stroke-width="1.1" fill="none"/><circle cx="469.70" cy="497.30" r="1.1" fill="#151515"/>
<path d="M472.50 490.40h6.4M472.50 494.00h6.4M475.70 490.40V494.00" stroke="#151515" stroke-width="1.1" fill="none"/><circle cx="475.70" cy="492.20" r="1.1" fill="#151515"/>
<path d="M485.80 490.40h6.4M485.80 494.40h6.4M489.00 490.40V494.40" stroke="#151515" stroke-width="1.1" fill="none"/><circle cx="489.00" cy="492.40" r="1.1" fill="#151515"/>
<path d="M493.80 490.00h6.4M493.80 494.00h6.4M497.00 490.00V494.00" stroke="#151515" stroke-width="1.1" fill="none"/><circle cx="497.00" cy="492.00" r="1.1" fill="#151515"/>
<path d="M501.50 506.70h6.4M501.50 522.90h6.4M504.70 506.70V522.90" stroke="#151515" stroke-width="1.1" fill="none"/><circle cx="504.70" cy="514.80" r="1.1" fill="#151515"/>
<path d="M511.10 497.30h6.4M511.10 501.30h6.4M514.30 497.30V501.30" stroke="#151515" stroke-width="1.1" fill="none"/><circle cx="514.30" cy="499.30" r="1.1" fill="#151515"/>
<path d="M515.10 495.70h6.4M515.10 507.30h6.4M518.30 495.70V507.30" stroke="#151515" stroke-width="1.1" fill="none"/><circle cx="518.30" cy="501.50" r="1.1" fill="#151515"/>
<path d="M521.10 494.40h6.4M521.10 498.60h6.4M524.30 494.40V498.60" stroke="#151515" stroke-width="1.1" fill="none"/><circle cx="524.30" cy="496.50" r="1.1" fill="#151515"/>
<path d="M523.80 498.00h6.4M523.80 502.00h6.4M527.00 498.00V502.00" stroke="#151515" stroke-width="1.1" fill="none"/><circle cx="527.00" cy="500.00" r="1.1" fill="#151515"/>
<path d="M528.50 506.70h6.4M528.50 511.30h6.4M531.70 506.70V511.30" stroke="#151515" stroke-width="1.1" fill="none"/><circle cx="531.70" cy="509.00" r="1.1" fill="#151515"/>
<path d="M530.50 491.70h6.4M530.50 495.30h6.4M533.70 491.70V495.30" stroke="#151515" stroke-width="1.1" fill="none"/><circle cx="533.70" cy="493.50" r="1.1" fill="#151515"/>
<path d="M533.10 496.00h6.4M533.10 498.60h6.4M536.30 496.00V498.60" stroke="#151515" stroke-width="1.1" fill="none"/><circle cx="536.30" cy="497.30" r="1.1" fill="#151515"/>
<path d="M420.60 490.50h4.2M421.30 492.20h2.8M422.70 490.20v6.5" stroke="#151515" stroke-width="1.1" fill="none"/><polyline points="420.30,493.80 422.70,497.40 425.10,493.80" stroke="#151515" stroke-width="1.5" fill="none" stroke-linejoin="miter"/>
<path d="M549.10 478.50h4.2M549.80 480.20h2.8M551.20 478.20v6.5" stroke="#151515" stroke-width="1.1" fill="none"/><polyline points="548.80,481.80 551.20,485.40 553.60,481.80" stroke="#151515" stroke-width="1.5" fill="none" stroke-linejoin="miter"/>
<path d="M560.50 521.40h4.2M561.20 523.10h2.8M562.60 521.10v6.5" stroke="#151515" stroke-width="1.1" fill="none"/><polyline points="560.20,524.70 562.60,528.30 565.00,524.70" stroke="#151515" stroke-width="1.5" fill="none" stroke-linejoin="miter"/>
</g>
<clipPath id="cp6"><rect x="37.0" y="661.7" width="253.5" height="164.0"/></clipPath><g clip-path="url(#cp6)">
<polyline points="76.20,826.00 80.50,816.30 90.30,804.30 101.10,799.60 110.80,802.20 116.90,809.80 123.40,800.00 135.80,805.40 143.30,815.20 148.80,826.00" fill="none" stroke="#7d4b2e" stroke-width="1.2" stroke-linejoin="round" opacity="1"/>
<polyline points="126.00,826.00 136.80,806.50 147.70,784.80 152.00,774.00 156.30,765.30 160.70,757.70 169.20,752.00 179.10,748.50 186.20,749.90 193.20,752.00 197.50,755.50 201.70,760.50 203.90,767.60 206.00,777.50 208.80,784.60 211.00,789.50 212.80,800.00 215.00,811.00 216.80,824.20 217.20,831.00" fill="none" stroke="#68bc3c" stroke-width="1.3" stroke-dasharray="1.3,1" stroke-linejoin="round"/>
<polyline points="126.50,826.40 137.30,806.90 148.20,785.20 152.50,774.40 156.80,765.70 161.20,758.10 169.70,752.40 179.60,748.90 186.70,750.30 193.70,752.40 198.00,755.90 202.20,760.90 204.40,768.00 206.50,777.90 209.30,785.00 211.50,789.90 213.30,800.40 215.50,811.40 217.30,824.60 217.70,831.40" fill="none" stroke="#68bc3c" stroke-width="0.9" stroke-dasharray="0.9,1.7" stroke-linejoin="round" opacity="0.8"/>
<polyline points="136.80,826.00 165.00,806.50 177.60,797.80 190.40,789.50 197.50,784.60 204.60,780.30 211.70,775.40 215.90,774.70 220.20,776.10 225.80,778.90 228.70,780.50 234.30,782.00 240.00,789.00 243.60,798.90 248.00,808.80 252.40,815.40 256.80,822.00 260.10,828.60" fill="none" stroke="#2828b8" stroke-width="1.3" stroke-linejoin="round" stroke-dasharray="4.6,3" opacity="1"/>
<polyline points="37.00,689.80 41.50,683.00 48.00,677.60 56.70,673.30 65.30,672.20 74.00,674.30 82.70,680.80 89.20,689.50 95.00,701.50 99.90,706.40 104.80,710.10 107.30,708.30 109.10,700.30 111.60,693.50 114.70,708.30 117.10,719.30 119.60,709.50 123.30,692.30 125.70,700.90 128.20,710.70 129.40,719.30 130.60,735.30 132.50,748.80 134.90,759.90 137.40,770.90 142.90,762.30 147.80,775.80 151.50,773.40 156.40,763.50 161.30,756.20 165.00,753.50 169.20,752.00 176.20,749.20 183.30,746.30 189.00,747.70 193.20,748.50 197.50,751.30 203.20,757.70 208.80,764.70 214.50,771.80 221.60,776.80 228.70,780.30 234.30,781.70 240.00,788.80 243.60,798.90 248.00,808.80 252.40,815.40 256.80,822.00 260.10,828.60" fill="none" stroke="#c92127" stroke-width="1.3" stroke-linejoin="round" opacity="1"/>
<polyline points="95.00,702.00 104.30,712.30 108.00,706.00 112.20,689.20 114.50,706.00 117.00,720.00 119.50,708.00 123.30,688.00 126.00,700.00 128.80,699.00 128.80,707.00 130.00,712.50 130.00,720.50 132.00,740.00 134.00,752.00 136.20,747.00 136.20,756.20 138.00,770.00" fill="none" stroke="#151515" stroke-width="1.1" stroke-linejoin="round" stroke-dasharray="4,2.5" opacity="1"/>
<path d="M62.00 669.50h6.4M62.00 677.50h6.4M65.20 669.50V677.50" stroke="#151515" stroke-width="1.1" fill="none"/><circle cx="65.20" cy="673.50" r="1.1" fill="#151515"/>
<path d="M86.00 686.80h6.4M86.00 698.80h6.4M89.20 686.80V698.80" stroke="#151515" stroke-width="1.1" fill="none"/><circle cx="89.20" cy="692.80" r="1.1" fill="#151515"/>
<path d="M113.30 717.00h6.4M113.30 723.00h6.4M116.50 717.00V723.00" stroke="#151515" stroke-width="1.1" fill="none"/><circle cx="116.50" cy="720.00" r="1.1" fill="#151515"/>
<path d="M146.50 773.40h6.4M146.50 778.80h6.4M149.70 773.40V778.80" stroke="#151515" stroke-width="1.1" fill="none"/><circle cx="149.70" cy="776.10" r="1.1" fill="#151515"/>
<path d="M154.80 758.50h6.4M154.80 762.70h6.4M158.00 758.50V762.70" stroke="#151515" stroke-width="1.1" fill="none"/><circle cx="158.00" cy="760.60" r="1.1" fill="#151515"/>
<path d="M162.40 752.00h6.4M162.40 754.80h6.4M165.60 752.00V754.80" stroke="#151515" stroke-width="1.1" fill="none"/><circle cx="165.60" cy="753.40" r="1.1" fill="#151515"/>
<path d="M168.10 751.30h6.4M168.10 754.10h6.4M171.30 751.30V754.10" stroke="#151515" stroke-width="1.1" fill="none"/><circle cx="171.30" cy="752.70" r="1.1" fill="#151515"/>
<path d="M183.70 742.00h6.4M183.70 746.00h6.4M186.90 742.00V746.00" stroke="#151515" stroke-width="1.1" fill="none"/><circle cx="186.90" cy="744.00" r="1.1" fill="#151515"/>
<path d="M189.30 742.00h6.4M189.30 746.00h6.4M192.50 742.00V746.00" stroke="#151515" stroke-width="1.1" fill="none"/><circle cx="192.50" cy="744.00" r="1.1" fill="#151515"/>
<path d="M197.10 752.80h6.4M197.10 757.00h6.4M200.30 752.80V757.00" stroke="#151515" stroke-width="1.1" fill="none"/><circle cx="200.30" cy="754.90" r="1.1" fill="#151515"/>
<path d="M207.80 764.80h6.4M207.80 769.00h6.4M211.00 764.80V769.00" stroke="#151515" stroke-width="1.1" fill="none"/><circle cx="211.00" cy="766.90" r="1.1" fill="#151515"/>
<path d="M209.90 766.90h6.4M209.90 769.70h6.4M213.10 766.90V769.70" stroke="#151515" stroke-width="1.1" fill="none"/><circle cx="213.10" cy="768.30" r="1.1" fill="#151515"/>
<path d="M217.00 775.40h6.4M217.00 778.20h6.4M220.20 775.40V778.20" stroke="#151515" stroke-width="1.1" fill="none"/><circle cx="220.20" cy="776.80" r="1.1" fill="#151515"/>
<path d="M219.80 776.80h6.4M219.80 779.60h6.4M223.00 776.80V779.60" stroke="#151515" stroke-width="1.1" fill="none"/><circle cx="223.00" cy="778.20" r="1.1" fill="#151515"/>
<path d="M226.90 778.90h6.4M226.90 783.10h6.4M230.10 778.90V783.10" stroke="#151515" stroke-width="1.1" fill="none"/><circle cx="230.10" cy="781.00" r="1.1" fill="#151515"/>
<path d="M76.20 711.50h4.2M76.90 713.20h2.8M78.30 711.20v6.5" stroke="#151515" stroke-width="1.1" fill="none"/><polyline points="75.90,714.80 78.30,718.40 80.70,714.80" stroke="#151515" stroke-width="1.5" fill="none" stroke-linejoin="miter"/>
<path d="M245.50 787.10h4.2M246.20 788.80h2.8M247.60 786.80v6.5" stroke="#151515" stroke-width="1.1" fill="none"/><polyline points="245.20,790.40 247.60,794.00 250.00,790.40" stroke="#151515" stroke-width="1.5" fill="none" stroke-linejoin="miter"/>
<path d="M256.50 795.90h4.2M257.20 797.60h2.8M258.60 795.60v6.5" stroke="#151515" stroke-width="1.1" fill="none"/><polyline points="256.20,799.20 258.60,802.80 261.00,799.20" stroke="#151515" stroke-width="1.5" fill="none" stroke-linejoin="miter"/>
</g>
<clipPath id="cp7"><rect x="345.7" y="661.7" width="253.5" height="164.0"/></clipPath><g clip-path="url(#cp7)">
<polyline points="363.60,826.00 371.20,804.30 378.80,782.70 386.30,759.90 392.80,752.30 399.30,749.70 408.00,749.10 418.80,750.20 431.80,747.60 442.70,750.20 453.50,756.70 466.50,763.20 468.00,764.80 475.30,775.80 479.00,785.00 483.80,797.00 486.00,802.20 492.00,817.60 496.40,828.60" fill="none" stroke="#7d4b2e" stroke-width="1.2" stroke-linejoin="round" opacity="1"/>
<polyline points="577.00,827.00 581.00,824.50 587.00,824.00" fill="none" stroke="#7d4b2e" stroke-width="1.2" stroke-linejoin="round" opacity="1"/>
<polyline points="422.10,826.00 429.70,804.30 438.30,787.00 447.00,765.30 453.50,750.20 460.00,737.20 464.30,726.30 468.00,716.40 472.40,710.90 479.00,708.00 485.60,705.80 492.20,704.30 498.80,705.00 505.40,707.20 509.80,709.80 513.10,720.80 514.20,734.00 518.60,740.60 523.00,751.60 525.20,758.20 526.30,771.40 524.10,780.20 527.40,771.40 531.80,772.50 536.20,776.90 540.60,779.10 545.00,771.40 549.40,773.60 551.60,771.40 553.80,789.00 554.90,811.00 560.40,812.10 567.00,814.30 571.40,817.60 575.80,821.60 578.00,824.20" fill="none" stroke="#68bc3c" stroke-width="1.3" stroke-dasharray="1.3,1" stroke-linejoin="round"/>
<polyline points="422.60,826.40 430.20,804.70 438.80,787.40 447.50,765.70 454.00,750.60 460.50,737.60 464.80,726.70 468.50,716.80 472.90,711.30 479.50,708.40 486.10,706.20 492.70,704.70 499.30,705.40 505.90,707.60 510.30,710.20 513.60,721.20 514.70,734.40 519.10,741.00 523.50,752.00 525.70,758.60 526.80,771.80 524.60,780.60 527.90,771.80 532.30,772.90 536.70,777.30 541.10,779.50 545.50,771.80 549.90,774.00 552.10,771.80 554.30,789.40 555.40,811.40 560.90,812.50 567.50,814.70 571.90,818.00 576.30,822.00 578.50,824.60" fill="none" stroke="#68bc3c" stroke-width="0.9" stroke-dasharray="0.9,1.7" stroke-linejoin="round" opacity="0.8"/>
<polyline points="524.50,762.00 524.50,782.00" fill="none" stroke="#68bc3c" stroke-width="1.0" stroke-linejoin="round" stroke-dasharray="1.2,1.2" opacity="1"/>
<polyline points="526.00,765.00 526.00,783.00" fill="none" stroke="#68bc3c" stroke-width="1.0" stroke-linejoin="round" stroke-dasharray="1.2,1.2" opacity="1"/>
<polyline points="546.00,770.00 546.00,782.00" fill="none" stroke="#68bc3c" stroke-width="1.0" stroke-linejoin="round" stroke-dasharray="1.2,1.2" opacity="1"/>
<polyline points="548.00,770.00 548.00,784.00" fill="none" stroke="#68bc3c" stroke-width="1.0" stroke-linejoin="round" stroke-dasharray="1.2,1.2" opacity="1"/>
<polyline points="550.00,770.00 550.00,784.00" fill="none" stroke="#68bc3c" stroke-width="1.0" stroke-linejoin="round" stroke-dasharray="1.2,1.2" opacity="1"/>
<polyline points="552.00,770.00 552.00,788.00" fill="none" stroke="#68bc3c" stroke-width="1.0" stroke-linejoin="round" stroke-dasharray="1.2,1.2" opacity="1"/>
<polyline points="373.00,826.00 518.60,706.50 525.20,703.20 534.00,702.10 543.90,702.10 547.20,705.40 551.60,714.20 556.00,723.00 564.80,731.80 573.60,741.70 582.40,751.60 591.20,761.50 598.90,771.40 601.00,774.00" fill="none" stroke="#2828b8" stroke-width="1.3" stroke-linejoin="round" stroke-dasharray="4.6,3" opacity="1"/>
<polyline points="356.00,826.00 363.60,811.90 371.20,793.50 378.80,775.10 385.30,761.00 392.80,752.30 400.40,746.90 410.20,744.80 421.00,743.70 429.70,740.40 438.30,737.20 447.00,733.90 453.50,729.60 460.00,724.20 465.00,717.20 471.00,707.50 480.00,703.00 487.50,700.00 495.00,697.00 502.50,695.50 510.00,697.00 517.50,699.20 525.00,701.50 532.50,701.50 540.00,700.70 546.00,702.20 548.30,705.40 552.00,712.00 556.00,720.80 560.40,727.40 569.20,736.20 578.00,745.00 586.80,753.80 595.60,764.80 601.00,771.50" fill="none" stroke="#c92127" stroke-width="1.3" stroke-linejoin="round" opacity="1"/>
<path d="M460.10 716.60h6.4M460.10 723.00h6.4M463.30 716.60V723.00" stroke="#151515" stroke-width="1.1" fill="none"/><circle cx="463.30" cy="719.80" r="1.1" fill="#151515"/>
<path d="M468.50 702.30h6.4M468.50 706.70h6.4M471.70 702.30V706.70" stroke="#151515" stroke-width="1.1" fill="none"/><circle cx="471.70" cy="704.50" r="1.1" fill="#151515"/>
<path d="M475.30 703.00h6.4M475.30 706.80h6.4M478.50 703.00V706.80" stroke="#151515" stroke-width="1.1" fill="none"/><circle cx="478.50" cy="704.90" r="1.1" fill="#151515"/>
<path d="M482.00 698.60h6.4M482.00 703.00h6.4M485.20 698.60V703.00" stroke="#151515" stroke-width="1.1" fill="none"/><circle cx="485.20" cy="700.80" r="1.1" fill="#151515"/>
<path d="M495.50 692.60h6.4M495.50 697.00h6.4M498.70 692.60V697.00" stroke="#151515" stroke-width="1.1" fill="none"/><circle cx="498.70" cy="694.80" r="1.1" fill="#151515"/>
<path d="M503.00 694.00h6.4M503.00 699.20h6.4M506.20 694.00V699.20" stroke="#151515" stroke-width="1.1" fill="none"/><circle cx="506.20" cy="696.60" r="1.1" fill="#151515"/>
<path d="M510.50 695.50h6.4M510.50 700.70h6.4M513.70 695.50V700.70" stroke="#151515" stroke-width="1.1" fill="none"/><circle cx="513.70" cy="698.10" r="1.1" fill="#151515"/>
<path d="M520.30 696.30h6.4M520.30 701.50h6.4M523.50 696.30V701.50" stroke="#151515" stroke-width="1.1" fill="none"/><circle cx="523.50" cy="698.90" r="1.1" fill="#151515"/>
<path d="M524.80 701.50h6.4M524.80 713.50h6.4M528.00 701.50V713.50" stroke="#151515" stroke-width="1.1" fill="none"/><circle cx="528.00" cy="707.50" r="1.1" fill="#151515"/>
<path d="M530.00 701.60h6.4M530.00 706.00h6.4M533.20 701.60V706.00" stroke="#151515" stroke-width="1.1" fill="none"/><circle cx="533.20" cy="703.80" r="1.1" fill="#151515"/>
<path d="M534.50 696.30h6.4M534.50 700.70h6.4M537.70 696.30V700.70" stroke="#151515" stroke-width="1.1" fill="none"/><circle cx="537.70" cy="698.50" r="1.1" fill="#151515"/>
<path d="M539.80 694.80h6.4M539.80 700.00h6.4M543.00 694.80V700.00" stroke="#151515" stroke-width="1.1" fill="none"/><circle cx="543.00" cy="697.40" r="1.1" fill="#151515"/>
<path d="M538.30 706.00h6.4M538.30 711.20h6.4M541.50 706.00V711.20" stroke="#151515" stroke-width="1.1" fill="none"/><circle cx="541.50" cy="708.60" r="1.1" fill="#151515"/>
<path d="M543.50 700.80h6.4M543.50 705.20h6.4M546.70 700.80V705.20" stroke="#151515" stroke-width="1.1" fill="none"/><circle cx="546.70" cy="703.00" r="1.1" fill="#151515"/>
<path d="M429.70 686.60h4.2M430.40 688.30h2.8M431.80 686.30v6.5" stroke="#151515" stroke-width="1.1" fill="none"/><polyline points="429.40,689.90 431.80,693.50 434.20,689.90" stroke="#151515" stroke-width="1.5" fill="none" stroke-linejoin="miter"/>
<path d="M559.40 711.20h4.2M560.10 712.90h2.8M561.50 710.90v6.5" stroke="#151515" stroke-width="1.1" fill="none"/><polyline points="559.10,714.50 561.50,718.10 563.90,714.50" stroke="#151515" stroke-width="1.5" fill="none" stroke-linejoin="miter"/>
<path d="M569.30 721.10h4.2M570.00 722.80h2.8M571.40 720.80v6.5" stroke="#151515" stroke-width="1.1" fill="none"/><polyline points="569.00,724.40 571.40,728.00 573.80,724.40" stroke="#151515" stroke-width="1.5" fill="none" stroke-linejoin="miter"/>
</g>
<path d="M46.63 183.50v-2.5 M59.46 183.50v-2.5 M72.30 183.50v-2.5 M85.13 183.50v-5 M97.97 183.50v-2.5 M110.80 183.50v-2.5 M123.64 183.50v-2.5 M136.47 183.50v-2.5 M149.31 183.50v-5 M162.15 183.50v-2.5 M174.98 183.50v-2.5 M187.82 183.50v-2.5 M200.65 183.50v-2.5 M213.49 183.50v-5 M226.32 183.50v-2.5 M239.16 183.50v-2.5 M251.99 183.50v-2.5 M264.83 183.50v-2.5 M277.66 183.50v-5 M290.50 183.50v-2.5 M51.56 19.50v5 M115.73 19.50v5 M96.41 19.50v2.5 M85.11 19.50v2.5 M77.09 19.50v2.5 M70.87 19.50v2.5 M65.79 19.50v2.5 M61.50 19.50v2.5 M57.77 19.50v2.5 M54.49 19.50v2.5 M179.91 19.50v5 M160.59 19.50v2.5 M149.29 19.50v2.5 M141.27 19.50v2.5 M135.05 19.50v2.5 M129.97 19.50v2.5 M125.67 19.50v2.5 M121.95 19.50v2.5 M118.67 19.50v2.5 M244.09 19.50v5 M224.77 19.50v2.5 M213.47 19.50v2.5 M205.45 19.50v2.5 M199.23 19.50v2.5 M194.15 19.50v2.5 M189.85 19.50v2.5 M186.13 19.50v2.5 M182.85 19.50v2.5 M288.94 19.50v2.5 M277.64 19.50v2.5 M269.63 19.50v2.5 M263.41 19.50v2.5 M258.32 19.50v2.5 M254.03 19.50v2.5 M250.31 19.50v2.5 M247.02 19.50v2.5 M37.00 183.50h5 M290.50 183.50h-5 M37.00 176.67h2.5 M290.50 176.67h-2.5 M37.00 169.83h2.5 M290.50 169.83h-2.5 M37.00 163.00h2.5 M290.50 163.00h-2.5 M37.00 156.17h2.5 M290.50 156.17h-2.5 M37.00 149.33h5 M290.50 149.33h-5 M37.00 142.50h2.5 M290.50 142.50h-2.5 M37.00 135.67h2.5 M290.50 135.67h-2.5 M37.00 128.83h2.5 M290.50 128.83h-2.5 M37.00 122.00h2.5 M290.50 122.00h-2.5 M37.00 115.17h5 M290.50 115.17h-5 M37.00 108.33h2.5 M290.50 108.33h-2.5 M37.00 101.50h2.5 M290.50 101.50h-2.5 M37.00 94.67h2.5 M290.50 94.67h-2.5 M37.00 87.83h2.5 M290.50 87.83h-2.5 M37.00 81.00h5 M290.50 81.00h-5 M37.00 74.17h2.5 M290.50 74.17h-2.5 M37.00 67.33h2.5 M290.50 67.33h-2.5 M37.00 60.50h2.5 M290.50 60.50h-2.5 M37.00 53.67h2.5 M290.50 53.67h-2.5 M37.00 46.83h5 M290.50 46.83h-5 M37.00 40.00h2.5 M290.50 40.00h-2.5 M37.00 33.17h2.5 M290.50 33.17h-2.5 M37.00 26.33h2.5 M290.50 26.33h-2.5 M37.00 19.50h2.5 M290.50 19.50h-2.5" stroke="#1a1a1a" stroke-width="1" fill="none"/>
<rect x="37.0" y="19.5" width="253.5" height="164.0" fill="none" stroke="#1a1a1a" stroke-width="1.3"/>
<g class="tl"><text class="tx" x="85.33" y="193.60" text-anchor="middle">13</text><text class="tx" x="149.51" y="193.60" text-anchor="middle">14</text><text class="tx" x="213.69" y="193.60" text-anchor="middle">15</text><text class="tx" x="277.86" y="193.60" text-anchor="middle">16</text><text class="tx" x="51.76" y="15.10" text-anchor="middle">100</text><text class="tx" x="115.93" y="15.10" text-anchor="middle">10</text><text class="tx" x="180.11" y="15.10" text-anchor="middle">1</text><text class="tx" x="244.29" y="15.10" text-anchor="middle">0.1</text><text class="ty" x="32.20" y="186.50" text-anchor="end">44</text><text class="ty" x="32.20" y="152.33" text-anchor="end">44.5</text><text class="ty" x="32.20" y="118.17" text-anchor="end">45</text><text class="ty" x="32.20" y="84.00" text-anchor="end">45.5</text><text class="ty" x="32.20" y="49.83" text-anchor="end">46</text></g>
<text class="al" x="139.00" y="209.50" textLength="54.5" lengthAdjust="spacingAndGlyphs">log  <tspan font-style="italic">ν</tspan>[Hz]</text>
<text class="al" transform="translate(10.00,93.40) rotate(-90)" text-anchor="middle" textLength="110.8" lengthAdjust="spacingAndGlyphs">log <tspan font-style="italic">ν</tspan>L(<tspan font-style="italic">ν</tspan>)  [erg s−1]</text>
<text class="lam" x="153.50" y="8.00" textLength="30" lengthAdjust="spacingAndGlyphs">λ[<tspan font-style="italic">μ</tspan>m]</text>
<text class="ti" x="89.10" y="47.4" textLength="157.9" lengthAdjust="spacingAndGlyphs">XID=5607, z=1.359, E(B−V)<tspan class="sub" dy="2.3">qso</tspan><tspan class="tv" dy="-2.3">=0</tspan></text>
<path d="M355.33 183.50v-2.5 M368.16 183.50v-2.5 M381.00 183.50v-2.5 M393.83 183.50v-5 M406.67 183.50v-2.5 M419.50 183.50v-2.5 M432.34 183.50v-2.5 M445.17 183.50v-2.5 M458.01 183.50v-5 M470.85 183.50v-2.5 M483.68 183.50v-2.5 M496.52 183.50v-2.5 M509.35 183.50v-2.5 M522.19 183.50v-5 M535.02 183.50v-2.5 M547.86 183.50v-2.5 M560.69 183.50v-2.5 M573.53 183.50v-2.5 M586.36 183.50v-5 M599.20 183.50v-2.5 M360.26 19.50v5 M424.43 19.50v5 M405.11 19.50v2.5 M393.81 19.50v2.5 M385.79 19.50v2.5 M379.57 19.50v2.5 M374.49 19.50v2.5 M370.20 19.50v2.5 M366.47 19.50v2.5 M363.19 19.50v2.5 M488.61 19.50v5 M469.29 19.50v2.5 M457.99 19.50v2.5 M449.97 19.50v2.5 M443.75 19.50v2.5 M438.67 19.50v2.5 M434.37 19.50v2.5 M430.65 19.50v2.5 M427.37 19.50v2.5 M552.79 19.50v5 M533.47 19.50v2.5 M522.17 19.50v2.5 M514.15 19.50v2.5 M507.93 19.50v2.5 M502.85 19.50v2.5 M498.55 19.50v2.5 M494.83 19.50v2.5 M491.55 19.50v2.5 M597.64 19.50v2.5 M586.34 19.50v2.5 M578.33 19.50v2.5 M572.11 19.50v2.5 M567.02 19.50v2.5 M562.73 19.50v2.5 M559.01 19.50v2.5 M555.72 19.50v2.5 M345.70 183.50h5 M599.20 183.50h-5 M345.70 176.67h2.5 M599.20 176.67h-2.5 M345.70 169.83h2.5 M599.20 169.83h-2.5 M345.70 163.00h2.5 M599.20 163.00h-2.5 M345.70 156.17h2.5 M599.20 156.17h-2.5 M345.70 149.33h5 M599.20 149.33h-5 M345.70 142.50h2.5 M599.20 142.50h-2.5 M345.70 135.67h2.5 M599.20 135.67h-2.5 M345.70 128.83h2.5 M599.20 128.83h-2.5 M345.70 122.00h2.5 M599.20 122.00h-2.5 M345.70 115.17h5 M599.20 115.17h-5 M345.70 108.33h2.5 M599.20 108.33h-2.5 M345.70 101.50h2.5 M599.20 101.50h-2.5 M345.70 94.67h2.5 M599.20 94.67h-2.5 M345.70 87.83h2.5 M599.20 87.83h-2.5 M345.70 81.00h5 M599.20 81.00h-5 M345.70 74.17h2.5 M599.20 74.17h-2.5 M345.70 67.33h2.5 M599.20 67.33h-2.5 M345.70 60.50h2.5 M599.20 60.50h-2.5 M345.70 53.67h2.5 M599.20 53.67h-2.5 M345.70 46.83h5 M599.20 46.83h-5 M345.70 40.00h2.5 M599.20 40.00h-2.5 M345.70 33.17h2.5 M599.20 33.17h-2.5 M345.70 26.33h2.5 M599.20 26.33h-2.5 M345.70 19.50h2.5 M599.20 19.50h-2.5" stroke="#1a1a1a" stroke-width="1" fill="none"/>
<rect x="345.7" y="19.5" width="253.5" height="164.0" fill="none" stroke="#1a1a1a" stroke-width="1.3"/>
<g class="tl"><text class="tx" x="394.03" y="193.60" text-anchor="middle">13</text><text class="tx" x="458.21" y="193.60" text-anchor="middle">14</text><text class="tx" x="522.39" y="193.60" text-anchor="middle">15</text><text class="tx" x="586.56" y="193.60" text-anchor="middle">16</text><text class="tx" x="360.46" y="15.10" text-anchor="middle">100</text><text class="tx" x="424.63" y="15.10" text-anchor="middle">10</text><text class="tx" x="488.81" y="15.10" text-anchor="middle">1</text><text class="tx" x="552.99" y="15.10" text-anchor="middle">0.1</text><text class="ty" x="340.90" y="186.50" text-anchor="end">44</text><text class="ty" x="340.90" y="152.33" text-anchor="end">44.5</text><text class="ty" x="340.90" y="118.17" text-anchor="end">45</text><text class="ty" x="340.90" y="84.00" text-anchor="end">45.5</text><text class="ty" x="340.90" y="49.83" text-anchor="end">46</text></g>
<text class="al" x="447.70" y="209.50" textLength="54.5" lengthAdjust="spacingAndGlyphs">log  <tspan font-style="italic">ν</tspan>[Hz]</text>
<text class="al" transform="translate(319.10,93.85) rotate(-90)" text-anchor="middle" textLength="110.1" lengthAdjust="spacingAndGlyphs">log <tspan font-style="italic">ν</tspan>L(<tspan font-style="italic">ν</tspan>)  [erg s−1]</text>
<text class="lam" x="462.20" y="8.00" textLength="30" lengthAdjust="spacingAndGlyphs">λ[<tspan font-style="italic">μ</tspan>m]</text>
<text class="ti" x="398.20" y="47.2" textLength="163.5" lengthAdjust="spacingAndGlyphs">XID=53537, z=1.067, E(B−V)<tspan class="sub" dy="2.3">qso</tspan><tspan class="tv" dy="-2.3">=0</tspan></text>
<path d="M46.63 397.50v-2.5 M59.46 397.50v-2.5 M72.30 397.50v-2.5 M85.13 397.50v-5 M97.97 397.50v-2.5 M110.80 397.50v-2.5 M123.64 397.50v-2.5 M136.47 397.50v-2.5 M149.31 397.50v-5 M162.15 397.50v-2.5 M174.98 397.50v-2.5 M187.82 397.50v-2.5 M200.65 397.50v-2.5 M213.49 397.50v-5 M226.32 397.50v-2.5 M239.16 397.50v-2.5 M251.99 397.50v-2.5 M264.83 397.50v-2.5 M277.66 397.50v-5 M290.50 397.50v-2.5 M51.56 233.50v5 M115.73 233.50v5 M96.41 233.50v2.5 M85.11 233.50v2.5 M77.09 233.50v2.5 M70.87 233.50v2.5 M65.79 233.50v2.5 M61.50 233.50v2.5 M57.77 233.50v2.5 M54.49 233.50v2.5 M179.91 233.50v5 M160.59 233.50v2.5 M149.29 233.50v2.5 M141.27 233.50v2.5 M135.05 233.50v2.5 M129.97 233.50v2.5 M125.67 233.50v2.5 M121.95 233.50v2.5 M118.67 233.50v2.5 M244.09 233.50v5 M224.77 233.50v2.5 M213.47 233.50v2.5 M205.45 233.50v2.5 M199.23 233.50v2.5 M194.15 233.50v2.5 M189.85 233.50v2.5 M186.13 233.50v2.5 M182.85 233.50v2.5 M288.94 233.50v2.5 M277.64 233.50v2.5 M269.63 233.50v2.5 M263.41 233.50v2.5 M258.32 233.50v2.5 M254.03 233.50v2.5 M250.31 233.50v2.5 M247.02 233.50v2.5 M37.00 397.50h5 M290.50 397.50h-5 M37.00 391.64h2.5 M290.50 391.64h-2.5 M37.00 385.79h2.5 M290.50 385.79h-2.5 M37.00 379.93h2.5 M290.50 379.93h-2.5 M37.00 374.07h2.5 M290.50 374.07h-2.5 M37.00 368.21h5 M290.50 368.21h-5 M37.00 362.36h2.5 M290.50 362.36h-2.5 M37.00 356.50h2.5 M290.50 356.50h-2.5 M37.00 350.64h2.5 M290.50 350.64h-2.5 M37.00 344.79h2.5 M290.50 344.79h-2.5 M37.00 338.93h5 M290.50 338.93h-5 M37.00 333.07h2.5 M290.50 333.07h-2.5 M37.00 327.21h2.5 M290.50 327.21h-2.5 M37.00 321.36h2.5 M290.50 321.36h-2.5 M37.00 315.50h2.5 M290.50 315.50h-2.5 M37.00 309.64h5 M290.50 309.64h-5 M37.00 303.79h2.5 M290.50 303.79h-2.5 M37.00 297.93h2.5 M290.50 297.93h-2.5 M37.00 292.07h2.5 M290.50 292.07h-2.5 M37.00 286.21h2.5 M290.50 286.21h-2.5 M37.00 280.36h5 M290.50 280.36h-5 M37.00 274.50h2.5 M290.50 274.50h-2.5 M37.00 268.64h2.5 M290.50 268.64h-2.5 M37.00 262.79h2.5 M290.50 262.79h-2.5 M37.00 256.93h2.5 M290.50 256.93h-2.5 M37.00 251.07h5 M290.50 251.07h-5 M37.00 245.21h2.5 M290.50 245.21h-2.5 M37.00 239.36h2.5 M290.50 239.36h-2.5 M37.00 233.50h2.5 M290.50 233.50h-2.5" stroke="#1a1a1a" stroke-width="1" fill="none"/>
<rect x="37.0" y="233.5" width="253.5" height="164.0" fill="none" stroke="#1a1a1a" stroke-width="1.3"/>
<g class="tl"><text class="tx" x="85.33" y="407.60" text-anchor="middle">13</text><text class="tx" x="149.51" y="407.60" text-anchor="middle">14</text><text class="tx" x="213.69" y="407.60" text-anchor="middle">15</text><text class="tx" x="277.86" y="407.60" text-anchor="middle">16</text><text class="tx" x="51.76" y="229.10" text-anchor="middle">100</text><text class="tx" x="115.93" y="229.10" text-anchor="middle">10</text><text class="tx" x="180.11" y="229.10" text-anchor="middle">1</text><text class="tx" x="244.29" y="229.10" text-anchor="middle">0.1</text><text class="ty" x="32.20" y="400.50" text-anchor="end">42</text><text class="ty" x="32.20" y="371.21" text-anchor="end">42.5</text><text class="ty" x="32.20" y="341.93" text-anchor="end">43</text><text class="ty" x="32.20" y="312.64" text-anchor="end">43.5</text><text class="ty" x="32.20" y="283.36" text-anchor="end">44</text><text class="ty" x="32.20" y="254.07" text-anchor="end">44.5</text></g>
<text class="al" x="139.00" y="423.50" textLength="54.5" lengthAdjust="spacingAndGlyphs">log  <tspan font-style="italic">ν</tspan>[Hz]</text>
<text class="al" transform="translate(10.90,306.65) rotate(-90)" text-anchor="middle" textLength="112.5" lengthAdjust="spacingAndGlyphs">log <tspan font-style="italic">ν</tspan>L(<tspan font-style="italic">ν</tspan>)  [erg s−1]</text>
<text class="ti" x="89.30" y="245.4" textLength="154.3" lengthAdjust="spacingAndGlyphs">XID=4, z=0.132, E(B−V)<tspan class="sub" dy="2.3">qso</tspan><tspan class="tv" dy="-2.3">=0.03</tspan></text>
<path d="M355.33 397.50v-2.5 M368.16 397.50v-2.5 M381.00 397.50v-2.5 M393.83 397.50v-5 M406.67 397.50v-2.5 M419.50 397.50v-2.5 M432.34 397.50v-2.5 M445.17 397.50v-2.5 M458.01 397.50v-5 M470.85 397.50v-2.5 M483.68 397.50v-2.5 M496.52 397.50v-2.5 M509.35 397.50v-2.5 M522.19 397.50v-5 M535.02 397.50v-2.5 M547.86 397.50v-2.5 M560.69 397.50v-2.5 M573.53 397.50v-2.5 M586.36 397.50v-5 M599.20 397.50v-2.5 M360.26 233.50v5 M424.43 233.50v5 M405.11 233.50v2.5 M393.81 233.50v2.5 M385.79 233.50v2.5 M379.57 233.50v2.5 M374.49 233.50v2.5 M370.20 233.50v2.5 M366.47 233.50v2.5 M363.19 233.50v2.5 M488.61 233.50v5 M469.29 233.50v2.5 M457.99 233.50v2.5 M449.97 233.50v2.5 M443.75 233.50v2.5 M438.67 233.50v2.5 M434.37 233.50v2.5 M430.65 233.50v2.5 M427.37 233.50v2.5 M552.79 233.50v5 M533.47 233.50v2.5 M522.17 233.50v2.5 M514.15 233.50v2.5 M507.93 233.50v2.5 M502.85 233.50v2.5 M498.55 233.50v2.5 M494.83 233.50v2.5 M491.55 233.50v2.5 M597.64 233.50v2.5 M586.34 233.50v2.5 M578.33 233.50v2.5 M572.11 233.50v2.5 M567.02 233.50v2.5 M562.73 233.50v2.5 M559.01 233.50v2.5 M555.72 233.50v2.5 M345.70 397.50h5 M599.20 397.50h-5 M345.70 386.57h2.5 M599.20 386.57h-2.5 M345.70 375.63h2.5 M599.20 375.63h-2.5 M345.70 364.70h2.5 M599.20 364.70h-2.5 M345.70 353.77h2.5 M599.20 353.77h-2.5 M345.70 342.83h5 M599.20 342.83h-5 M345.70 331.90h2.5 M599.20 331.90h-2.5 M345.70 320.97h2.5 M599.20 320.97h-2.5 M345.70 310.03h2.5 M599.20 310.03h-2.5 M345.70 299.10h2.5 M599.20 299.10h-2.5 M345.70 288.17h5 M599.20 288.17h-5 M345.70 277.23h2.5 M599.20 277.23h-2.5 M345.70 266.30h2.5 M599.20 266.30h-2.5 M345.70 255.37h2.5 M599.20 255.37h-2.5 M345.70 244.43h2.5 M599.20 244.43h-2.5 M345.70 233.50h5 M599.20 233.50h-5" stroke="#1a1a1a" stroke-width="1" fill="none"/>
<rect x="345.7" y="233.5" width="253.5" height="164.0" fill="none" stroke="#1a1a1a" stroke-width="1.3"/>
<g class="tl"><text class="tx" x="394.03" y="407.60" text-anchor="middle">13</text><text class="tx" x="458.21" y="407.60" text-anchor="middle">14</text><text class="tx" x="522.39" y="407.60" text-anchor="middle">15</text><text class="tx" x="586.56" y="407.60" text-anchor="middle">16</text><text class="tx" x="360.46" y="229.10" text-anchor="middle">100</text><text class="tx" x="424.63" y="229.10" text-anchor="middle">10</text><text class="tx" x="488.81" y="229.10" text-anchor="middle">1</text><text class="tx" x="552.99" y="229.10" text-anchor="middle">0.1</text><text class="ty" x="340.90" y="400.50" text-anchor="end">42</text><text class="ty" x="340.90" y="345.83" text-anchor="end">43</text><text class="ty" x="340.90" y="291.17" text-anchor="end">44</text><text class="ty" x="340.90" y="236.50" text-anchor="end">45</text></g>
<text class="al" x="447.70" y="423.50" textLength="54.5" lengthAdjust="spacingAndGlyphs">log  <tspan font-style="italic">ν</tspan>[Hz]</text>
<text class="al" transform="translate(322.90,312.85) rotate(-90)" text-anchor="middle" textLength="121.3" lengthAdjust="spacingAndGlyphs">log <tspan font-style="italic">ν</tspan>L(<tspan font-style="italic">ν</tspan>)  [erg s−1]</text>
<text class="ti" x="397.40" y="250.2" textLength="167.3" lengthAdjust="spacingAndGlyphs">XID=236, z=1.445, E(B−V)<tspan class="sub" dy="2.3">qso</tspan><tspan class="tv" dy="-2.3">=0.35</tspan></text>
<path d="M46.63 611.60v-2.5 M59.46 611.60v-2.5 M72.30 611.60v-2.5 M85.13 611.60v-5 M97.97 611.60v-2.5 M110.80 611.60v-2.5 M123.64 611.60v-2.5 M136.47 611.60v-2.5 M149.31 611.60v-5 M162.15 611.60v-2.5 M174.98 611.60v-2.5 M187.82 611.60v-2.5 M200.65 611.60v-2.5 M213.49 611.60v-5 M226.32 611.60v-2.5 M239.16 611.60v-2.5 M251.99 611.60v-2.5 M264.83 611.60v-2.5 M277.66 611.60v-5 M290.50 611.60v-2.5 M51.56 447.60v5 M115.73 447.60v5 M96.41 447.60v2.5 M85.11 447.60v2.5 M77.09 447.60v2.5 M70.87 447.60v2.5 M65.79 447.60v2.5 M61.50 447.60v2.5 M57.77 447.60v2.5 M54.49 447.60v2.5 M179.91 447.60v5 M160.59 447.60v2.5 M149.29 447.60v2.5 M141.27 447.60v2.5 M135.05 447.60v2.5 M129.97 447.60v2.5 M125.67 447.60v2.5 M121.95 447.60v2.5 M118.67 447.60v2.5 M244.09 447.60v5 M224.77 447.60v2.5 M213.47 447.60v2.5 M205.45 447.60v2.5 M199.23 447.60v2.5 M194.15 447.60v2.5 M189.85 447.60v2.5 M186.13 447.60v2.5 M182.85 447.60v2.5 M288.94 447.60v2.5 M277.64 447.60v2.5 M269.63 447.60v2.5 M263.41 447.60v2.5 M258.32 447.60v2.5 M254.03 447.60v2.5 M250.31 447.60v2.5 M247.02 447.60v2.5 M37.00 611.60h5 M290.50 611.60h-5 M37.00 605.74h2.5 M290.50 605.74h-2.5 M37.00 599.89h2.5 M290.50 599.89h-2.5 M37.00 594.03h2.5 M290.50 594.03h-2.5 M37.00 588.17h2.5 M290.50 588.17h-2.5 M37.00 582.31h5 M290.50 582.31h-5 M37.00 576.46h2.5 M290.50 576.46h-2.5 M37.00 570.60h2.5 M290.50 570.60h-2.5 M37.00 564.74h2.5 M290.50 564.74h-2.5 M37.00 558.89h2.5 M290.50 558.89h-2.5 M37.00 553.03h5 M290.50 553.03h-5 M37.00 547.17h2.5 M290.50 547.17h-2.5 M37.00 541.31h2.5 M290.50 541.31h-2.5 M37.00 535.46h2.5 M290.50 535.46h-2.5 M37.00 529.60h2.5 M290.50 529.60h-2.5 M37.00 523.74h5 M290.50 523.74h-5 M37.00 517.89h2.5 M290.50 517.89h-2.5 M37.00 512.03h2.5 M290.50 512.03h-2.5 M37.00 506.17h2.5 M290.50 506.17h-2.5 M37.00 500.31h2.5 M290.50 500.31h-2.5 M37.00 494.46h5 M290.50 494.46h-5 M37.00 488.60h2.5 M290.50 488.60h-2.5 M37.00 482.74h2.5 M290.50 482.74h-2.5 M37.00 476.89h2.5 M290.50 476.89h-2.5 M37.00 471.03h2.5 M290.50 471.03h-2.5 M37.00 465.17h5 M290.50 465.17h-5 M37.00 459.31h2.5 M290.50 459.31h-2.5 M37.00 453.46h2.5 M290.50 453.46h-2.5 M37.00 447.60h2.5 M290.50 447.60h-2.5" stroke="#1a1a1a" stroke-width="1" fill="none"/>
<rect x="37.0" y="447.6" width="253.5" height="164.0" fill="none" stroke="#1a1a1a" stroke-width="1.3"/>
<g class="tl"><text class="tx" x="85.33" y="621.70" text-anchor="middle">13</text><text class="tx" x="149.51" y="621.70" text-anchor="middle">14</text><text class="tx" x="213.69" y="621.70" text-anchor="middle">15</text><text class="tx" x="277.86" y="621.70" text-anchor="middle">16</text><text class="tx" x="51.76" y="443.20" text-anchor="middle">100</text><text class="tx" x="115.93" y="443.20" text-anchor="middle">10</text><text class="tx" x="180.11" y="443.20" text-anchor="middle">1</text><text class="tx" x="244.29" y="443.20" text-anchor="middle">0.1</text><text class="ty" x="32.20" y="614.60" text-anchor="end">42</text><text class="ty" x="32.20" y="585.31" text-anchor="end">42.5</text><text class="ty" x="32.20" y="556.03" text-anchor="end">43</text><text class="ty" x="32.20" y="526.74" text-anchor="end">43.5</text><text class="ty" x="32.20" y="497.46" text-anchor="end">44</text><text class="ty" x="32.20" y="468.17" text-anchor="end">44.5</text></g>
<text class="al" x="139.00" y="637.60" textLength="54.5" lengthAdjust="spacingAndGlyphs">log  <tspan font-style="italic">ν</tspan>[Hz]</text>
<text class="al" transform="translate(10.90,522.40) rotate(-90)" text-anchor="middle" textLength="120.4" lengthAdjust="spacingAndGlyphs">log <tspan font-style="italic">ν</tspan>L(<tspan font-style="italic">ν</tspan>)  [erg s−1]</text>
<text class="ti" x="89.30" y="458.7" textLength="172.7" lengthAdjust="spacingAndGlyphs">XID=5121, z=0.196, E(B−V)<tspan class="sub" dy="2.3">qso</tspan><tspan class="tv" dy="-2.3">=0.08</tspan></text>
<path d="M355.33 611.60v-2.5 M368.16 611.60v-2.5 M381.00 611.60v-2.5 M393.83 611.60v-5 M406.67 611.60v-2.5 M419.50 611.60v-2.5 M432.34 611.60v-2.5 M445.17 611.60v-2.5 M458.01 611.60v-5 M470.85 611.60v-2.5 M483.68 611.60v-2.5 M496.52 611.60v-2.5 M509.35 611.60v-2.5 M522.19 611.60v-5 M535.02 611.60v-2.5 M547.86 611.60v-2.5 M560.69 611.60v-2.5 M573.53 611.60v-2.5 M586.36 611.60v-5 M599.20 611.60v-2.5 M360.26 447.60v5 M424.43 447.60v5 M405.11 447.60v2.5 M393.81 447.60v2.5 M385.79 447.60v2.5 M379.57 447.60v2.5 M374.49 447.60v2.5 M370.20 447.60v2.5 M366.47 447.60v2.5 M363.19 447.60v2.5 M488.61 447.60v5 M469.29 447.60v2.5 M457.99 447.60v2.5 M449.97 447.60v2.5 M443.75 447.60v2.5 M438.67 447.60v2.5 M434.37 447.60v2.5 M430.65 447.60v2.5 M427.37 447.60v2.5 M552.79 447.60v5 M533.47 447.60v2.5 M522.17 447.60v2.5 M514.15 447.60v2.5 M507.93 447.60v2.5 M502.85 447.60v2.5 M498.55 447.60v2.5 M494.83 447.60v2.5 M491.55 447.60v2.5 M597.64 447.60v2.5 M586.34 447.60v2.5 M578.33 447.60v2.5 M572.11 447.60v2.5 M567.02 447.60v2.5 M562.73 447.60v2.5 M559.01 447.60v2.5 M555.72 447.60v2.5 M345.70 611.60h2.5 M599.20 611.60h-2.5 M345.70 601.35h2.5 M599.20 601.35h-2.5 M345.70 591.10h5 M599.20 591.10h-5 M345.70 580.85h2.5 M599.20 580.85h-2.5 M345.70 570.60h2.5 M599.20 570.60h-2.5 M345.70 560.35h2.5 M599.20 560.35h-2.5 M345.70 550.10h2.5 M599.20 550.10h-2.5 M345.70 539.85h5 M599.20 539.85h-5 M345.70 529.60h2.5 M599.20 529.60h-2.5 M345.70 519.35h2.5 M599.20 519.35h-2.5 M345.70 509.10h2.5 M599.20 509.10h-2.5 M345.70 498.85h2.5 M599.20 498.85h-2.5 M345.70 488.60h5 M599.20 488.60h-5 M345.70 478.35h2.5 M599.20 478.35h-2.5 M345.70 468.10h2.5 M599.20 468.10h-2.5 M345.70 457.85h2.5 M599.20 457.85h-2.5 M345.70 447.60h2.5 M599.20 447.60h-2.5" stroke="#1a1a1a" stroke-width="1" fill="none"/>
<rect x="345.7" y="447.6" width="253.5" height="164.0" fill="none" stroke="#1a1a1a" stroke-width="1.3"/>
<g class="tl"><text class="tx" x="394.03" y="621.70" text-anchor="middle">13</text><text class="tx" x="458.21" y="621.70" text-anchor="middle">14</text><text class="tx" x="522.39" y="621.70" text-anchor="middle">15</text><text class="tx" x="586.56" y="621.70" text-anchor="middle">16</text><text class="tx" x="360.46" y="443.20" text-anchor="middle">100</text><text class="tx" x="424.63" y="443.20" text-anchor="middle">10</text><text class="tx" x="488.81" y="443.20" text-anchor="middle">1</text><text class="tx" x="552.99" y="443.20" text-anchor="middle">0.1</text><text class="ty" x="340.90" y="594.10" text-anchor="end">42</text><text class="ty" x="340.90" y="542.85" text-anchor="end">43</text><text class="ty" x="340.90" y="491.60" text-anchor="end">44</text></g>
<text class="al" x="447.70" y="637.60" textLength="54.5" lengthAdjust="spacingAndGlyphs">log  <tspan font-style="italic">ν</tspan>[Hz]</text>
<text class="al" transform="translate(322.90,525.85) rotate(-90)" text-anchor="middle" textLength="118.7" lengthAdjust="spacingAndGlyphs">log <tspan font-style="italic">ν</tspan>L(<tspan font-style="italic">ν</tspan>)  [erg s−1]</text>
<text class="ti" x="398.20" y="457.9" textLength="179.3" lengthAdjust="spacingAndGlyphs">XID=54129, z=1.233, E(B−V)<tspan class="sub" dy="2.3">qso</tspan><tspan class="tv" dy="-2.3">=0.04</tspan></text>
<path d="M46.63 825.70v-2.5 M59.46 825.70v-2.5 M72.30 825.70v-2.5 M85.13 825.70v-5 M97.97 825.70v-2.5 M110.80 825.70v-2.5 M123.64 825.70v-2.5 M136.47 825.70v-2.5 M149.31 825.70v-5 M162.15 825.70v-2.5 M174.98 825.70v-2.5 M187.82 825.70v-2.5 M200.65 825.70v-2.5 M213.49 825.70v-5 M226.32 825.70v-2.5 M239.16 825.70v-2.5 M251.99 825.70v-2.5 M264.83 825.70v-2.5 M277.66 825.70v-5 M290.50 825.70v-2.5 M51.56 661.70v5 M115.73 661.70v5 M96.41 661.70v2.5 M85.11 661.70v2.5 M77.09 661.70v2.5 M70.87 661.70v2.5 M65.79 661.70v2.5 M61.50 661.70v2.5 M57.77 661.70v2.5 M54.49 661.70v2.5 M179.91 661.70v5 M160.59 661.70v2.5 M149.29 661.70v2.5 M141.27 661.70v2.5 M135.05 661.70v2.5 M129.97 661.70v2.5 M125.67 661.70v2.5 M121.95 661.70v2.5 M118.67 661.70v2.5 M244.09 661.70v5 M224.77 661.70v2.5 M213.47 661.70v2.5 M205.45 661.70v2.5 M199.23 661.70v2.5 M194.15 661.70v2.5 M189.85 661.70v2.5 M186.13 661.70v2.5 M182.85 661.70v2.5 M288.94 661.70v2.5 M277.64 661.70v2.5 M269.63 661.70v2.5 M263.41 661.70v2.5 M258.32 661.70v2.5 M254.03 661.70v2.5 M250.31 661.70v2.5 M247.02 661.70v2.5 M37.00 825.70h5 M290.50 825.70h-5 M37.00 816.05h2.5 M290.50 816.05h-2.5 M37.00 806.41h2.5 M290.50 806.41h-2.5 M37.00 796.76h2.5 M290.50 796.76h-2.5 M37.00 787.11h2.5 M290.50 787.11h-2.5 M37.00 777.46h5 M290.50 777.46h-5 M37.00 767.82h2.5 M290.50 767.82h-2.5 M37.00 758.17h2.5 M290.50 758.17h-2.5 M37.00 748.52h2.5 M290.50 748.52h-2.5 M37.00 738.88h2.5 M290.50 738.88h-2.5 M37.00 729.23h5 M290.50 729.23h-5 M37.00 719.58h2.5 M290.50 719.58h-2.5 M37.00 709.94h2.5 M290.50 709.94h-2.5 M37.00 700.29h2.5 M290.50 700.29h-2.5 M37.00 690.64h2.5 M290.50 690.64h-2.5 M37.00 680.99h5 M290.50 680.99h-5 M37.00 671.35h2.5 M290.50 671.35h-2.5 M37.00 661.70h2.5 M290.50 661.70h-2.5" stroke="#1a1a1a" stroke-width="1" fill="none"/>
<rect x="37.0" y="661.7" width="253.5" height="164.0" fill="none" stroke="#1a1a1a" stroke-width="1.3"/>
<g class="tl"><text class="tx" x="85.33" y="835.80" text-anchor="middle">13</text><text class="tx" x="149.51" y="835.80" text-anchor="middle">14</text><text class="tx" x="213.69" y="835.80" text-anchor="middle">15</text><text class="tx" x="277.86" y="835.80" text-anchor="middle">16</text><text class="tx" x="51.76" y="657.30" text-anchor="middle">100</text><text class="tx" x="115.93" y="657.30" text-anchor="middle">10</text><text class="tx" x="180.11" y="657.30" text-anchor="middle">1</text><text class="tx" x="244.29" y="657.30" text-anchor="middle">0.1</text><text class="ty" x="32.20" y="828.70" text-anchor="end">43</text><text class="ty" x="32.20" y="780.46" text-anchor="end">44</text><text class="ty" x="32.20" y="732.23" text-anchor="end">45</text><text class="ty" x="32.20" y="683.99" text-anchor="end">46</text></g>
<text class="al" x="139.00" y="851.70" textLength="54.5" lengthAdjust="spacingAndGlyphs">log  <tspan font-style="italic">ν</tspan>[Hz]</text>
<text class="al" transform="translate(14.40,741.35) rotate(-90)" text-anchor="middle" textLength="121.3" lengthAdjust="spacingAndGlyphs">log <tspan font-style="italic">ν</tspan>L(<tspan font-style="italic">ν</tspan>)  [erg s−1]</text>
<text class="ti" x="89.30" y="673.4" textLength="165.3" lengthAdjust="spacingAndGlyphs">XID=304, z=1.607, E(B−V)<tspan class="sub" dy="2.3">qso</tspan><tspan class="tv" dy="-2.3">=0.08</tspan></text>
<path d="M355.33 825.70v-2.5 M368.16 825.70v-2.5 M381.00 825.70v-2.5 M393.83 825.70v-5 M406.67 825.70v-2.5 M419.50 825.70v-2.5 M432.34 825.70v-2.5 M445.17 825.70v-2.5 M458.01 825.70v-5 M470.85 825.70v-2.5 M483.68 825.70v-2.5 M496.52 825.70v-2.5 M509.35 825.70v-2.5 M522.19 825.70v-5 M535.02 825.70v-2.5 M547.86 825.70v-2.5 M560.69 825.70v-2.5 M573.53 825.70v-2.5 M586.36 825.70v-5 M599.20 825.70v-2.5 M360.26 661.70v5 M424.43 661.70v5 M405.11 661.70v2.5 M393.81 661.70v2.5 M385.79 661.70v2.5 M379.57 661.70v2.5 M374.49 661.70v2.5 M370.20 661.70v2.5 M366.47 661.70v2.5 M363.19 661.70v2.5 M488.61 661.70v5 M469.29 661.70v2.5 M457.99 661.70v2.5 M449.97 661.70v2.5 M443.75 661.70v2.5 M438.67 661.70v2.5 M434.37 661.70v2.5 M430.65 661.70v2.5 M427.37 661.70v2.5 M552.79 661.70v5 M533.47 661.70v2.5 M522.17 661.70v2.5 M514.15 661.70v2.5 M507.93 661.70v2.5 M502.85 661.70v2.5 M498.55 661.70v2.5 M494.83 661.70v2.5 M491.55 661.70v2.5 M597.64 661.70v2.5 M586.34 661.70v2.5 M578.33 661.70v2.5 M572.11 661.70v2.5 M567.02 661.70v2.5 M562.73 661.70v2.5 M559.01 661.70v2.5 M555.72 661.70v2.5 M345.70 825.70h5 M599.20 825.70h-5 M345.70 814.77h2.5 M599.20 814.77h-2.5 M345.70 803.83h2.5 M599.20 803.83h-2.5 M345.70 792.90h2.5 M599.20 792.90h-2.5 M345.70 781.97h2.5 M599.20 781.97h-2.5 M345.70 771.03h5 M599.20 771.03h-5 M345.70 760.10h2.5 M599.20 760.10h-2.5 M345.70 749.17h2.5 M599.20 749.17h-2.5 M345.70 738.23h2.5 M599.20 738.23h-2.5 M345.70 727.30h2.5 M599.20 727.30h-2.5 M345.70 716.37h5 M599.20 716.37h-5 M345.70 705.43h2.5 M599.20 705.43h-2.5 M345.70 694.50h2.5 M599.20 694.50h-2.5 M345.70 683.57h2.5 M599.20 683.57h-2.5 M345.70 672.63h2.5 M599.20 672.63h-2.5 M345.70 661.70h5 M599.20 661.70h-5" stroke="#1a1a1a" stroke-width="1" fill="none"/>
<rect x="345.7" y="661.7" width="253.5" height="164.0" fill="none" stroke="#1a1a1a" stroke-width="1.3"/>
<g class="tl"><text class="tx" x="394.03" y="835.80" text-anchor="middle">13</text><text class="tx" x="458.21" y="835.80" text-anchor="middle">14</text><text class="tx" x="522.39" y="835.80" text-anchor="middle">15</text><text class="tx" x="586.56" y="835.80" text-anchor="middle">16</text><text class="tx" x="360.46" y="657.30" text-anchor="middle">100</text><text class="tx" x="424.63" y="657.30" text-anchor="middle">10</text><text class="tx" x="488.81" y="657.30" text-anchor="middle">1</text><text class="tx" x="552.99" y="657.30" text-anchor="middle">0.1</text><text class="ty" x="340.90" y="828.70" text-anchor="end">42</text><text class="ty" x="340.90" y="774.03" text-anchor="end">43</text><text class="ty" x="340.90" y="719.37" text-anchor="end">44</text><text class="ty" x="340.90" y="664.70" text-anchor="end">45</text></g>
<text class="al" x="447.70" y="851.70" textLength="54.5" lengthAdjust="spacingAndGlyphs">log  <tspan font-style="italic">ν</tspan>[Hz]</text>
<text class="al" transform="translate(322.90,741.35) rotate(-90)" text-anchor="middle" textLength="121.3" lengthAdjust="spacingAndGlyphs">log <tspan font-style="italic">ν</tspan>L(<tspan font-style="italic">ν</tspan>)  [erg s−1]</text>
<text class="ti" x="398.20" y="678.9" textLength="181.1" lengthAdjust="spacingAndGlyphs">XID=53723, z=2.149, E(B−V)<tspan class="sub" dy="2.3">qso</tspan><tspan class="tv" dy="-2.3">=0.04</tspan></text>
</svg>
</body></html>
